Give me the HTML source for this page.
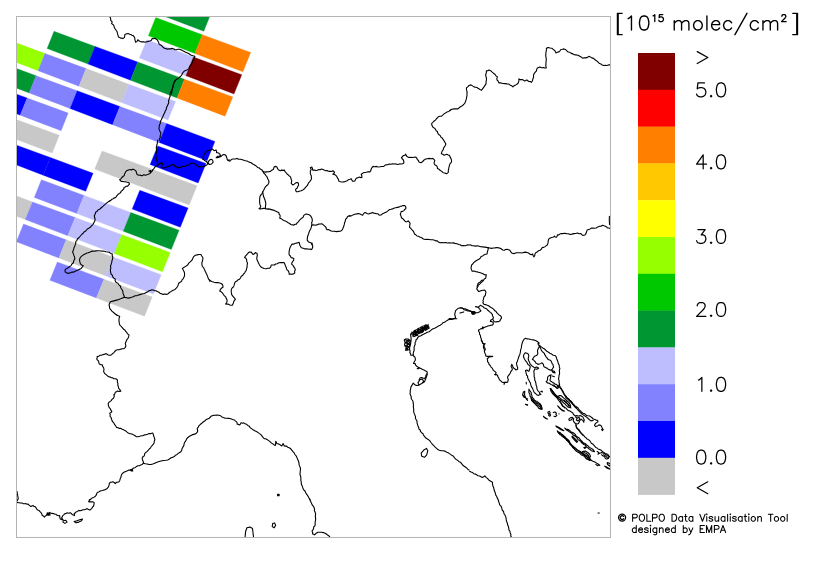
<!DOCTYPE html>
<html><head><meta charset="utf-8"><style>
html,body{margin:0;padding:0;background:#fff;}
body{width:813px;height:566px;overflow:hidden;position:relative;font-family:"Liberation Sans",sans-serif;}
svg{position:absolute;left:0;top:0;}
.t{position:absolute;color:#000;white-space:nowrap;line-height:1;}
</style></head><body>
<svg width="813" height="566" viewBox="0 0 813 566">
<defs><clipPath id="fr"><rect x="16.5" y="16.5" width="593.5" height="520.5"/></clipPath></defs>
<g clip-path="url(#fr)" shape-rendering="auto">
<polygon points="164.7,-4.6 211.3,12.5 203.8,31.3 157.3,13.6" fill="#009632" stroke="#009632" stroke-width="0.3"/>
<polygon points="155.7,17.6 202.4,34.8 194.9,53.5 148.4,35.8" fill="#00c800" stroke="#00c800" stroke-width="0.3"/>
<polygon points="202.4,34.8 250.7,52.5 242.9,71.8 194.9,53.5" fill="#ff8000" stroke="#ff8000" stroke-width="0.3"/>
<polygon points="146.8,39.8 193.4,57.0 185.9,75.7 139.4,58.0" fill="#bebeff" stroke="#bebeff" stroke-width="0.3"/>
<polygon points="193.4,57.0 241.8,74.7 234.0,94.0 185.9,75.7" fill="#800000" stroke="#800000" stroke-width="0.3"/>
<polygon points="54.0,31.3 95.1,46.4 88.0,64.1 47.1,48.5" fill="#009632" stroke="#009632" stroke-width="0.3"/>
<polygon points="95.1,46.4 137.8,62.1 130.5,80.2 88.0,64.1" fill="#0000ff" stroke="#0000ff" stroke-width="0.3"/>
<polygon points="137.8,62.1 184.5,79.2 177.0,97.9 130.5,80.2" fill="#009632" stroke="#009632" stroke-width="0.3"/>
<polygon points="184.5,79.2 232.8,96.9 225.0,116.2 177.0,97.9" fill="#ff8000" stroke="#ff8000" stroke-width="0.3"/>
<polygon points="4.9,38.8 45.0,53.5 38.1,70.7 -1.9,55.5" fill="#96ff00" stroke="#96ff00" stroke-width="0.3"/>
<polygon points="45.0,53.5 86.1,68.6 79.0,86.3 38.1,70.7" fill="#8282ff" stroke="#8282ff" stroke-width="0.3"/>
<polygon points="86.1,68.6 128.9,84.3 121.5,102.5 79.0,86.3" fill="#c8c8c8" stroke="#c8c8c8" stroke-width="0.3"/>
<polygon points="128.9,84.3 175.6,101.4 168.0,120.1 121.5,102.5" fill="#bebeff" stroke="#bebeff" stroke-width="0.3"/>
<polygon points="-4.1,61.0 36.1,75.7 29.2,92.9 -10.8,77.7" fill="#009632" stroke="#009632" stroke-width="0.3"/>
<polygon points="36.1,75.7 77.2,90.8 70.1,108.5 29.2,92.9" fill="#8282ff" stroke="#8282ff" stroke-width="0.3"/>
<polygon points="77.2,90.8 119.9,106.5 112.6,124.7 70.1,108.5" fill="#0000ff" stroke="#0000ff" stroke-width="0.3"/>
<polygon points="119.9,106.5 166.6,123.6 159.1,142.4 112.6,124.7" fill="#8282ff" stroke="#8282ff" stroke-width="0.3"/>
<polygon points="166.6,123.6 214.9,141.4 207.1,160.7 159.1,142.4" fill="#0000ff" stroke="#0000ff" stroke-width="0.3"/>
<polygon points="-13.0,83.2 27.2,98.0 20.2,115.2 -19.8,99.9" fill="#0000ff" stroke="#0000ff" stroke-width="0.3"/>
<polygon points="27.2,98.0 68.2,113.0 61.1,130.7 20.2,115.2" fill="#8282ff" stroke="#8282ff" stroke-width="0.3"/>
<polygon points="157.7,145.9 206.0,163.6 198.2,182.9 150.1,164.6" fill="#0000ff" stroke="#0000ff" stroke-width="0.3"/>
<polygon points="-22.0,105.4 18.2,120.2 11.3,137.4 -28.7,122.2" fill="#c8c8c8" stroke="#c8c8c8" stroke-width="0.3"/>
<polygon points="18.2,120.2 59.3,135.3 52.2,152.9 11.3,137.4" fill="#c8c8c8" stroke="#c8c8c8" stroke-width="0.3"/>
<polygon points="102.0,150.9 148.7,168.1 141.2,186.8 94.7,169.1" fill="#c8c8c8" stroke="#c8c8c8" stroke-width="0.3"/>
<polygon points="148.7,168.1 197.0,185.8 189.2,205.1 141.2,186.8" fill="#c8c8c8" stroke="#c8c8c8" stroke-width="0.3"/>
<polygon points="9.2,142.4 50.3,157.5 43.2,175.2 2.3,159.6" fill="#0000ff" stroke="#0000ff" stroke-width="0.3"/>
<polygon points="50.3,157.5 93.1,173.2 85.7,191.3 43.2,175.2" fill="#0000ff" stroke="#0000ff" stroke-width="0.3"/>
<polygon points="139.8,190.3 188.1,208.0 180.3,227.3 132.2,209.0" fill="#0000ff" stroke="#0000ff" stroke-width="0.3"/>
<polygon points="41.4,179.7 84.1,195.4 76.8,213.6 34.3,197.4" fill="#8282ff" stroke="#8282ff" stroke-width="0.3"/>
<polygon points="84.1,195.4 130.8,212.5 123.3,231.2 76.8,213.6" fill="#bebeff" stroke="#bebeff" stroke-width="0.3"/>
<polygon points="130.8,212.5 179.1,230.2 171.3,249.5 123.3,231.2" fill="#009632" stroke="#009632" stroke-width="0.3"/>
<polygon points="-8.6,186.8 32.5,201.9 25.3,219.6 -15.6,204.0" fill="#c8c8c8" stroke="#c8c8c8" stroke-width="0.3"/>
<polygon points="32.5,201.9 75.2,217.6 67.8,235.8 25.3,219.6" fill="#8282ff" stroke="#8282ff" stroke-width="0.3"/>
<polygon points="75.2,217.6 121.9,234.7 114.3,253.5 67.8,235.8" fill="#bebeff" stroke="#bebeff" stroke-width="0.3"/>
<polygon points="121.9,234.7 170.2,252.5 162.4,271.8 114.3,253.5" fill="#96ff00" stroke="#96ff00" stroke-width="0.3"/>
<polygon points="23.5,224.1 66.2,239.8 58.9,258.0 16.4,241.8" fill="#8282ff" stroke="#8282ff" stroke-width="0.3"/>
<polygon points="66.2,239.8 112.9,257.0 105.4,275.7 58.9,258.0" fill="#c8c8c8" stroke="#c8c8c8" stroke-width="0.3"/>
<polygon points="112.9,257.0 161.2,274.7 153.4,294.0 105.4,275.7" fill="#bebeff" stroke="#bebeff" stroke-width="0.3"/>
<polygon points="57.3,262.0 104.0,279.2 96.4,297.9 49.9,280.2" fill="#8282ff" stroke="#8282ff" stroke-width="0.3"/>
<polygon points="104.0,279.2 152.2,296.9 144.5,316.2 96.4,297.9" fill="#c8c8c8" stroke="#c8c8c8" stroke-width="0.3"/>
<g fill="none" stroke="#000" stroke-width="1.1" stroke-linejoin="round" stroke-linecap="round">
<path d="M109.2 16.2 L110.4 17.7 L110.7 19.0 L110.7 20.4 L112.2 21.9 L111.6 23.6 L113.3 24.8 L114.0 25.8 L114.1 27.1 L114.9 28.6 L116.0 30.0 L117.1 31.7 L117.5 33.7 L118.0 35.4 L118.5 37.1 L119.7 37.6 L120.8 38.2 L122.0 38.0 L123.0 38.6 L124.5 37.4 L124.7 36.0 L124.9 34.5 L126.7 33.7 L128.2 33.5 L129.7 34.2 L130.8 34.6 L131.9 35.2 L133.2 35.6 L134.1 36.7 L134.8 38.1 L134.9 39.7 L135.3 41.0 L135.6 42.3 L137.1 41.4 L137.8 39.7 L139.3 41.1 L140.7 41.8 L142.3 41.9 L143.8 41.8 L145.2 42.3 L146.7 41.7 L148.2 41.4 L149.7 41.0 L151.2 40.4 L152.2 38.5 L153.6 38.7 L154.9 38.2 L156.0 39.0 L157.1 39.7 L157.9 41.0 L158.6 42.3 L159.0 43.8 L160.1 44.9 L161.4 45.3 L162.3 46.3 L163.2 47.5 L164.5 48.3 L166.1 48.6 L167.5 49.3 L168.9 48.8 L170.5 48.9 L171.5 48.4 L172.7 48.6 L173.9 49.0 L174.9 49.8 L176.4 49.8 L177.9 49.3 L179.4 49.2 L180.8 49.8 L182.3 50.6 L183.8 51.2 L185.6 52.2 L187.5 53.0 L189.4 54.0 L191.2 55.2 L193.1 55.8 L194.9 56.3 L194.2 58.2 L193.8 59.5 L192.7 60.4 L192.6 62.0 L191.7 63.4 L191.1 64.7 L190.2 65.6 L189.4 67.0 L189.0 68.6 L187.9 69.4 L186.8 70.1 L185.7 70.6 L184.5 70.8 L183.1 72.3 L182.3 73.7 L181.6 75.3 L180.5 76.4 L179.4 77.5 L178.3 78.4 L177.1 79.0 L175.8 79.9 L174.9 81.2 L174.0 82.6 L173.4 84.2 L173.3 86.1 L172.7 87.9 L172.2 89.3 L171.9 90.8 L171.7 92.4 L171.5 94.0"/>
<path d="M175.7 80.0 L174.4 81.7 L173.8 83.7 L173.0 85.5 L172.7 87.4 L172.2 89.3 L171.4 91.1 L170.3 92.8 L170.1 94.8 L170.1 96.5 L169.4 97.9 L169.0 99.5 L168.5 101.0 L168.8 102.6 L168.2 104.1 L167.3 106.0 L166.4 107.8 L166.3 109.5 L165.2 110.9 L164.9 112.4 L163.8 114.2 L163.0 116.2 L162.1 118.0 L161.2 119.9 L160.4 121.3 L160.4 123.0 L159.7 124.5 L159.3 126.0 L159.1 127.6 L159.0 129.1 L159.8 131.0 L160.8 132.8 L160.7 134.4 L160.1 135.9 L160.3 137.5 L159.4 138.7 L159.3 140.3"/>
<path d="M157.8 140.0 L157.2 143.7 L156.3 147.4 L156.7 151.1 L155.7 154.8 L156.3 158.5 L157.2 162.2 L157.8 164.9"/>
<path d="M157.8 164.9 L158.7 164.2 L159.7 163.4 L160.9 163.1 L161.9 162.5 L162.5 163.8 L162.2 165.2 L161.5 166.3 L161.2 167.4 L162.3 167.8 L163.4 167.9 L165.0 167.9 L166.4 167.0 L167.9 166.7 L169.3 166.0 L170.4 165.3 L171.6 164.9 L172.6 164.6 L173.8 164.5 L174.4 165.7 L175.3 166.7 L176.6 166.9 L177.5 167.9 L179.0 167.6 L180.5 167.4 L181.4 166.7 L182.7 166.4 L183.8 166.2 L184.9 166.7 L185.8 165.6 L187.1 165.2 L188.3 165.1 L189.4 164.5 L190.3 163.5 L191.6 163.0 L192.7 163.0 L193.8 163.4 L195.0 163.9 L196.0 164.5 L196.9 165.8 L198.3 166.7 L199.8 166.5 L201.2 167.0 L202.7 166.7 L204.2 166.4 L205.3 165.8 L206.4 165.2 L207.4 164.3 L207.9 163.0 L206.4 161.5 L204.9 160.8 L204.0 159.8 L202.7 159.3 L203.2 157.8 L203.1 156.3 L203.9 154.7 L204.9 153.3 L206.0 152.2 L207.2 151.1 L208.6 150.5 L210.1 150.1 L211.4 149.8 L212.3 148.9 L213.8 150.4 L215.0 150.6 L216.1 150.1 L216.6 151.3 L216.5 152.6 L217.8 152.7 L219.0 153.3 L220.0 154.3 L220.5 155.6 L219.1 156.2 L217.5 156.3 L216.1 157.8 L217.2 157.6 L218.3 157.5 L219.8 157.0 L221.2 156.3 L222.7 154.8 L223.8 154.6 L225.0 154.8 L226.1 155.7 L226.4 157.1 L226.9 158.1 L227.2 159.3 L228.7 160.8 L230.0 161.1"/>
<path d="M207.9 163.0 L209.4 164.5 L211.6 164.0 L213.1 162.2 L212.6 160.0 L210.9 159.3 L209.1 160.5 L207.9 163.0"/>
<path d="M157.8 164.9 L156.6 165.9 L155.2 166.7 L154.4 167.8 L153.8 168.9 L152.7 169.8 L152.3 171.1 L151.1 171.4 L150.0 171.9 L148.9 171.1 L150.8 170.4 L151.5 171.9 L150.0 173.4 L148.9 173.9 L147.8 174.4 L146.7 174.8 L145.6 175.3 L144.5 174.9 L143.4 174.9 L142.4 175.6 L141.1 175.6 L140.1 175.1 L138.9 175.3 L137.0 174.4 L136.4 172.3 L136.0 171.2 L135.2 170.4 L133.7 169.4 L132.5 169.3 L131.5 170.0 L130.4 169.5 L129.3 169.7 L128.2 170.1 L127.1 170.4 L125.6 171.9 L125.1 173.0 L124.5 174.1 L124.3 175.4 L123.3 176.3 L122.4 177.0 L121.6 177.8 L120.9 179.1 L119.6 179.8 L120.7 180.4 L121.1 181.5 L122.6 181.4 L124.1 181.8 L125.6 181.7 L127.1 182.3 L128.2 182.5 L129.3 183.0 L129.3 184.3 L128.5 185.2 L127.6 186.2 L126.3 186.3 L125.3 187.0 L124.1 187.2 L123.9 188.6 L123.1 189.7 L122.2 190.5 L121.1 191.2 L120.7 192.5 L119.6 193.4 L118.3 194.0 L117.4 195.2 L116.6 196.1 L115.9 197.1 L115.0 197.9 L113.7 198.1 L112.9 198.9 L111.8 199.3 L111.0 200.2 L110.0 200.8"/>
<path d="M227.8 160.3 L229.2 160.1 L230.6 160.3 L231.8 159.3 L233.4 159.0 L235.3 159.0 L237.1 158.4 L238.8 159.3 L240.8 159.3 L242.3 159.8 L243.9 160.3 L245.4 160.8 L247.4 161.1 L249.1 162.1 L251.2 162.7 L252.8 164.0 L254.2 164.7 L255.4 165.4 L256.6 166.4 L257.6 167.5 L259.2 167.9 L260.3 169.0 L261.9 169.9 L263.0 171.4 L264.8 172.1 L266.8 171.9 L268.6 171.7 L270.5 171.4 L271.7 170.2 L273.2 169.5 L273.7 168.2 L274.2 166.8 L276.0 166.4 L277.1 167.3 L277.5 168.6 L278.4 169.6 L279.4 170.5 L280.5 170.7 L281.6 170.1 L283.0 170.4 L284.4 170.1 L284.9 171.3 L285.7 172.3 L286.6 173.1 L287.2 174.2 L288.2 174.8 L289.0 175.7 L290.2 176.6 L290.9 177.9 L291.1 179.3 L291.8 180.7 L291.5 182.0 L291.2 183.4 L292.7 184.9 L294.2 184.2 L295.5 183.1 L296.7 182.6 L297.9 182.5 L298.5 183.8 L298.6 185.3 L297.7 186.6 L297.3 188.1 L296.1 188.7 L295.5 189.9 L296.4 191.8 L297.9 191.8 L299.2 191.2 L301.1 190.8 L302.9 189.9 L304.5 188.7 L305.7 187.2 L307.0 185.9 L307.9 184.4 L308.6 182.8 L309.8 181.6 L310.7 180.2 L311.6 178.8 L311.3 177.2 L311.3 175.7 L310.4 174.1 L310.3 172.3 L310.4 170.8 L311.3 169.5 L310.3 167.7 L311.8 167.1 L312.5 168.5 L312.7 170.1 L314.3 170.1 L315.9 170.5 L317.3 170.2 L318.7 169.5 L320.1 169.7 L321.5 169.0 L322.9 169.5 L324.2 170.1 L325.6 170.7 L327.0 170.5 L328.3 171.3 L329.8 171.4"/>
<path d="M330.0 171.4 L331.5 171.5 L332.8 170.8 L333.8 171.5 L334.6 172.3 L333.9 173.4 L332.8 174.2 L334.2 174.4 L335.6 175.1 L336.7 176.3 L337.4 177.9 L338.4 179.4 L338.9 181.2 L340.5 181.7 L342.1 182.0 L344.0 181.9 L345.8 181.2 L347.3 180.7 L348.5 179.7 L349.9 179.3 L351.3 178.8 L351.9 180.1 L352.6 181.2 L353.9 181.2 L355.0 180.7 L355.6 179.1 L356.9 177.9 L358.3 177.6 L359.7 177.0 L360.7 177.6 L361.9 177.5 L361.8 175.8 L361.2 174.2 L362.4 173.6 L363.4 172.7 L364.8 172.5 L366.2 172.3 L368.0 171.8 L369.9 171.9 L370.8 170.6 L371.2 169.0 L372.0 167.6 L373.0 166.4 L374.7 166.7 L376.4 166.4 L378.2 167.0 L380.1 166.8 L381.9 166.5 L383.8 166.4 L384.6 165.6 L385.6 164.9 L387.6 164.8 L389.3 164.0 L390.9 164.2 L392.4 163.7 L394.0 164.0 L395.9 163.9 L397.7 164.5 L399.5 163.9 L401.4 164.0 L402.7 163.8 L403.8 163.0 L403.8 161.3 L403.2 159.7 L402.1 158.8 L401.4 157.5 L402.5 156.8 L403.2 155.6 L404.7 155.3 L405.7 154.1 L406.2 155.4 L407.0 156.6 L408.8 157.5 L410.7 157.3 L412.5 157.5 L414.1 157.3 L415.7 157.1 L416.7 158.0 L417.2 159.3 L418.4 160.5 L419.0 162.1 L420.9 162.7 L422.5 161.8 L423.6 160.3 L424.6 159.7 L425.5 159.0 L427.4 158.7 L429.2 158.4 L431.1 158.8 L432.9 158.4 L433.9 159.3 L434.8 160.3 L434.2 162.1 L434.2 164.0 L435.2 165.1 L436.6 165.8 L437.3 167.1 L437.5 168.6 L439.1 169.3 L440.3 170.5 L441.8 171.4 L443.1 172.7 L444.9 173.0 L446.4 173.8 L447.4 173.1 L448.3 172.3 L448.3 170.4 L448.7 168.6 L449.1 166.7 L449.6 164.9 L450.3 163.3 L451.5 162.1 L451.5 160.2 L450.9 158.4 L450.1 157.1 L449.6 155.6 L448.2 155.0 L446.8 154.3 L445.4 154.7 L444.0 155.3 L442.8 154.2 L441.3 153.8 L441.7 152.4 L442.2 151.0 L443.2 149.8 L443.5 148.2 L444.2 147.1 L445.0 146.0 L445.9 144.1 L445.0 142.4 L444.0 140.8 L443.1 139.4 L442.2 138.0 L440.9 137.1 L440.3 135.6 L439.4 135.0 L438.5 134.3 L437.7 133.0 L437.5 131.5 L436.3 130.9 L435.7 129.7 L435.0 128.6 L433.8 127.8 L432.7 126.9 L432.0 125.6 L431.6 123.7 L432.7 122.5 L433.8 121.3 L435.4 120.1 L436.6 118.5 L437.6 117.7 L438.5 116.7 L439.8 116.3 L441.3 116.3 L442.7 115.1 L444.0 113.9 L445.5 113.0 L446.8 112.1 L448.8 111.4 L450.5 110.2"/>
<path d="M450.0 110.3 L451.9 109.2 L454.0 108.9 L456.0 108.9 L458.0 108.9 L459.2 107.7 L460.5 106.7 L462.0 105.9 L463.7 104.5 L465.0 102.9 L465.7 100.9 L466.4 98.9 L466.6 97.2 L467.0 95.6 L467.0 93.9 L467.1 91.9 L466.5 89.9 L466.4 87.9 L467.7 86.8 L469.0 85.5 L471.0 84.9 L472.5 85.9 L474.0 86.9 L475.5 87.2 L477.0 87.5 L478.4 88.6 L480.0 89.5 L481.6 90.3 L482.7 88.6 L484.0 86.9 L485.0 85.4 L486.0 83.9 L486.1 81.9 L486.4 79.9 L486.5 78.2 L486.0 76.5 L485.6 74.9 L486.3 73.0 L486.4 70.9 L487.8 70.8 L489.0 69.9 L490.6 70.7 L491.9 71.9 L493.4 73.2 L494.9 74.3 L496.0 75.9 L497.5 76.9 L496.9 78.3 L496.9 79.9 L498.2 81.2 L498.9 82.9 L501.0 82.9 L502.9 83.5 L504.9 83.6 L506.9 83.9 L508.6 84.0 L509.9 84.9 L511.6 85.7 L512.9 86.9 L514.2 85.6 L515.9 84.9 L517.2 84.0 L518.3 82.9 L518.9 80.9 L518.9 78.9 L520.1 79.6 L521.5 79.5 L523.1 79.9 L524.3 80.9 L525.7 80.6 L526.9 79.9 L527.8 80.8 L528.9 81.5 L530.3 81.6 L531.5 82.3 L532.5 80.7 L532.9 78.9 L533.6 77.0 L533.5 74.9 L534.3 73.3 L535.5 71.9 L536.5 70.8 L536.7 69.2 L537.5 67.9 L538.7 67.4 L539.9 66.9 L541.6 67.7 L543.5 67.5 L544.8 68.0 L546.3 67.9 L545.8 66.0 L545.9 63.9 L546.0 62.3 L546.2 60.6 L546.3 58.9 L546.0 57.3 L545.7 55.6 L545.9 53.9 L545.9 52.3 L546.4 50.6 L546.3 48.9 L547.0 47.9 L548.3 47.5 L550.1 48.0 L551.9 48.3 L552.9 49.1 L553.9 49.9 L555.2 51.2 L555.9 52.9 L557.3 52.3 L558.9 51.9 L560.0 50.8 L560.9 49.5 L562.4 49.3 L563.9 48.9 L565.6 49.6 L566.9 50.9 L568.2 52.0 L569.9 52.3 L571.2 53.4 L572.9 53.9 L574.2 54.8 L575.8 54.9 L578.0 55.3 L579.8 56.3 L581.5 57.2 L582.8 58.3 L584.3 57.7 L585.8 57.9 L587.5 57.4 L588.8 56.3 L590.4 56.9 L591.8 57.9 L593.5 58.4 L594.8 59.5 L596.4 60.7 L597.8 61.9 L599.1 63.2 L600.8 63.9 L602.2 65.0 L603.8 65.5 L605.3 65.3 L606.8 65.5 L608.6 64.9 L610.4 64.9"/>
<path d="M263.0 171.5 L263.7 173.0 L264.9 174.1 L266.0 175.6 L267.1 177.0 L267.7 178.7 L268.6 180.2 L269.0 181.8 L268.6 183.4 L267.8 184.8 L266.4 185.8 L265.3 187.1 L264.5 188.5 L263.7 190.2 L262.7 191.9 L262.1 193.7 L260.8 195.0 L259.9 196.8 L259.7 198.7 L259.6 200.9 L259.7 203.0 L260.0 204.7 L260.8 206.2 L260.2 207.6 L259.0 208.6 L260.5 208.9 L262.1 208.6 L263.7 208.2 L265.3 208.6 L266.9 209.1 L268.6 208.9 L270.5 209.4 L272.3 209.9 L274.2 210.4 L276.0 211.2 L277.4 211.9 L278.8 212.6 L279.1 214.2 L280.1 215.4 L280.1 216.8 L279.7 218.2 L281.3 218.7 L282.5 219.7 L283.9 220.4 L285.3 221.0 L286.8 221.7 L288.1 222.8 L289.7 223.5 L290.9 224.7 L292.3 224.7 L293.6 225.3 L294.9 224.3 L296.4 224.1 L297.1 222.9 L298.3 221.9 L299.1 220.7 L300.1 219.7 L301.1 218.6 L302.4 217.8 L303.3 216.8 L303.8 215.4 L304.9 214.6 L306.1 214.1 L307.3 214.3 L308.5 214.5 L309.9 215.2 L310.9 216.4 L311.7 217.7 L312.2 219.1 L312.3 221.1 L311.6 222.8 L311.9 224.0 L311.8 225.3"/>
<path d="M262.7 191.9 L263.4 196.0 L264.9 199.7 L265.8 203.4 L265.3 208.6"/>
<path d="M311.8 225.3 L313.4 224.8 L315.0 225.3 L316.9 224.9 L318.7 224.1 L320.1 224.0 L321.5 223.8 L322.8 224.3 L323.9 225.3 L325.0 226.4 L326.1 227.5 L326.2 228.7 L327.0 229.7 L328.5 229.6 L329.8 230.3 L331.1 231.0 L332.6 231.2 L334.4 231.3 L336.3 231.6 L338.1 231.4 L340.0 231.2 L341.4 230.7 L342.4 229.7 L343.0 228.1 L343.7 226.6 L344.2 224.7 L344.6 222.8 L345.3 221.0 L345.6 219.1 L346.8 218.2 L347.4 216.7 L348.6 216.0 L350.0 215.4"/>
<path d="M311.8 225.3 L310.9 228.4 L309.4 231.2 L308.5 234.0 L307.5 236.8 L307.2 240.1 L308.5 241.9 L310.9 242.7 L312.2 245.1"/>
<path d="M110.1 200.7 L108.2 201.8 L106.5 203.2 L104.8 204.6 L103.2 206.1 L101.5 207.5 L100.0 209.0 L98.0 210.0 L97.0 211.4 L95.6 212.2 L95.3 214.0 L94.3 215.6 L94.6 217.5 L95.2 219.3 L94.7 221.2 L93.7 223.0 L92.9 224.6 L91.5 225.8 L90.4 227.2 L88.7 228.2 L87.1 229.2 L86.0 230.8 L84.4 231.7 L83.2 233.2 L81.7 234.5 L80.4 236.0 L79.1 237.5 L77.6 238.7 L76.9 240.3 L75.8 241.5 L75.7 243.2 L75.2 244.9 L74.6 246.5 L73.9 248.0 L73.5 250.0 L72.6 251.7 L73.3 253.6 L73.9 255.4 L74.6 257.2 L74.8 259.1 L73.7 260.8 L73.4 262.8 L71.9 264.0 L71.1 265.6 L69.7 266.5 L68.3 267.5 L67.1 268.4 L65.6 269.0 L65.0 270.5 L65.2 272.1 L66.4 272.6 L67.4 273.4 L68.8 273.1 L70.2 273.0 L71.9 272.1 L73.9 272.1 L75.7 271.1 L77.6 270.3 L79.5 269.3 L81.3 268.4 L82.3 267.0 L83.2 265.6 L81.6 264.9 L80.4 263.8 L79.9 261.9 L79.5 260.1 L80.0 258.0 L81.3 256.4 L83.1 255.1 L85.0 254.1 L86.4 253.2 L88.1 252.8 L89.7 252.3 L91.1 251.5 L92.7 251.1 L94.3 251.2 L95.8 250.9 L97.4 250.7 L98.9 250.8 L100.8 251.0 L102.6 251.1 L104.5 251.2 L106.0 251.8 L107.6 252.0 L109.1 252.3 L110.6 253.4 L112.3 254.1 L112.2 255.8 L112.8 257.3 L112.5 259.2 L111.9 261.0 L111.6 262.9 L111.0 264.7 L110.4 266.2 L110.9 267.8 L110.4 269.3 L110.4 270.9 L110.7 272.4 L111.0 274.0 L112.3 275.1 L112.8 276.8 L113.8 278.1 L115.3 279.0 L115.1 280.5 L115.6 281.9 L116.7 282.7 L117.9 283.2 L118.9 284.8 L120.3 286.0 L120.9 288.0 L122.1 289.7 L122.9 291.5 L123.0 293.4 L123.8 295.3 L124.5 297.2 L126.1 297.6 L127.7 298.1 L129.6 297.9 L131.4 297.2 L133.3 296.7 L135.1 295.7 L137.0 295.6 L138.8 294.9 L140.7 294.4 L142.5 293.8 L144.5 293.5 L146.2 292.5 L147.7 291.7 L149.0 290.7 L150.4 290.4 L151.8 289.7 L153.3 290.0 L154.6 290.7 L156.1 290.7 L157.3 291.6 L158.9 292.2 L160.1 293.4 L161.6 293.8 L162.9 294.4 L164.8 294.0 L166.6 294.4 L168.2 293.7 L169.4 292.5 L170.8 291.6 L172.2 290.7 L173.6 290.1 L175.0 289.4 L176.2 288.2 L177.2 287.0 L178.1 285.2 L178.7 283.2 L180.1 282.3 L181.5 281.4 L182.0 279.8 L183.3 278.6 L184.2 276.8 L184.6 274.9 L184.5 273.0 L183.9 271.2 L183.1 269.8 L182.4 268.4 L183.8 267.5 L185.2 266.6 L186.6 265.7 L187.9 264.7 L188.8 263.1 L190.2 261.9 L191.5 260.7 L192.6 259.1 L193.0 257.7 L193.9 256.4 L195.4 255.3 L197.2 254.9 L199.0 254.5 L200.9 254.5 L201.7 256.0 L202.8 257.3 L202.9 259.2 L202.4 261.0 L201.9 262.8 L201.9 264.7 L202.4 266.5 L203.7 267.9 L204.3 269.3 L205.0 270.7 L205.6 272.1 L206.5 274.0 L207.4 275.8 L207.9 277.3 L208.4 278.8 L209.3 280.1 L210.0 281.4"/>
<path d="M124.5 297.2 L121.2 298.6 L117.5 299.9 L113.8 300.9 L110.4 301.8 L109.1 304.6 L109.7 308.3 L111.9 311.1 L114.7 313.5 L116.6 315.0"/>
<path d="M209.5 279.9 L210.8 280.9 L212.3 281.7 L214.1 282.3 L216.0 282.6 L217.9 282.5 L219.7 283.0 L221.2 283.5 L222.4 284.5 L222.9 285.8 L223.0 287.3 L221.7 288.0 L220.6 289.1 L219.7 291.0 L221.2 291.8 L222.4 292.8 L223.3 294.3 L224.3 295.6 L225.6 296.8 L226.2 298.4 L227.0 299.7 L227.1 301.2 L226.5 302.7 L225.6 304.0 L226.8 304.1 L228.0 304.0 L229.9 304.9 L231.0 305.3 L232.3 305.3 L233.1 303.8 L233.6 302.1 L234.3 300.6 L235.4 299.3 L234.5 298.2 L233.6 297.1 L232.6 295.9 L231.7 294.7 L231.4 292.9 L231.2 291.0 L231.4 289.3 L232.3 287.8 L233.5 286.9 L234.1 285.4 L234.5 283.5 L235.4 281.7 L236.9 281.1 L237.8 279.9 L239.4 279.3 L240.4 278.0 L241.3 276.3 L242.8 275.2 L243.6 274.0 L244.7 272.9 L245.3 271.5 L246.3 270.3 L246.5 268.8 L247.1 267.4 L247.1 265.3 L247.5 263.2 L246.8 261.4 L246.6 259.5 L245.9 258.3 L244.7 257.6 L245.4 256.1 L246.6 254.8 L247.5 253.8 L248.4 252.6 L249.7 252.0 L251.2 252.1 L252.1 253.3 L253.0 254.5 L254.4 253.8 L255.3 252.6 L257.1 253.4 L257.3 255.5 L256.8 257.6 L256.9 259.5 L257.7 261.3 L258.6 263.2 L259.5 265.0 L260.7 266.7 L262.3 267.8 L264.1 268.5 L266.0 268.7 L267.8 268.2 L269.7 268.2 L270.8 266.8 L271.2 265.0 L272.8 265.0 L274.4 265.0 L275.6 264.0 L277.2 263.7 L278.9 262.8 L280.9 262.6 L282.5 262.6 L284.2 262.6 L284.9 264.3 L285.5 266.0 L286.3 267.8 L286.8 269.7 L287.9 270.4 L288.6 271.5 L289.1 272.9 L289.2 274.3 L290.6 274.1 L292.0 274.3 L293.5 273.9 L294.8 273.0 L294.6 271.3 L295.3 269.7 L294.8 268.2 L293.8 266.9 L293.0 265.3 L291.6 264.1 L292.0 262.6 L292.9 261.3 L293.7 260.1 L293.8 258.5 L292.5 257.9 L291.1 257.6 L290.4 256.0 L289.2 254.8 L289.0 253.0 L289.2 251.1 L289.6 249.2 L290.1 247.4 L291.0 245.7 L292.0 244.1 L293.9 244.1 L295.7 243.3 L297.4 242.9 L299.0 242.2 L299.5 243.7 L299.8 245.2 L300.6 246.5 L301.3 247.8 L303.2 248.2 L305.0 248.9 L306.9 248.7 L308.7 249.3 L310.1 249.1 L311.5 249.6 L312.4 248.2 L312.8 246.5 L312.2 244.7 L312.0 242.8"/>
<path d="M349.3 216.2 L351.3 215.9 L353.0 214.9 L354.8 214.2 L356.7 213.9 L358.1 213.6 L359.5 213.7 L361.0 214.5 L362.6 215.2 L363.6 213.7 L365.0 212.4 L366.3 213.0 L367.4 213.7 L368.6 214.0 L369.7 213.4 L371.2 213.2 L372.4 212.4 L373.8 213.2 L375.2 213.4 L376.6 213.7 L378.0 213.7 L378.7 214.8 L379.9 215.2 L381.4 214.8 L382.6 213.7 L384.1 213.1 L385.4 212.4 L386.9 211.7 L388.2 210.6 L389.4 209.6 L391.0 209.3 L392.5 208.9 L393.8 208.2 L395.6 207.8 L397.5 207.4 L399.0 207.1 L400.3 206.3 L401.7 206.1 L403.0 205.6 L404.2 205.6 L405.3 206.0 L405.9 207.3 L405.8 208.7 L404.6 209.4 L404.0 210.6 L402.7 211.4 L401.2 211.5 L400.8 212.9 L400.3 214.3 L401.0 216.1 L401.6 218.0 L402.9 218.8 L404.0 219.9 L404.7 220.9 L405.8 221.7 L407.2 221.7 L408.2 220.8 L409.3 222.1 L410.1 223.6 L409.7 225.4 L409.5 227.3 L410.6 228.1 L411.4 229.1 L412.3 230.1 L413.2 231.0 L414.0 232.5 L414.5 234.1 L415.9 234.8 L417.0 236.0 L418.5 236.3 L419.7 237.1 L421.7 237.8 L423.4 239.0 L425.3 239.5 L427.2 239.3 L429.0 239.5 L430.9 239.7 L432.8 239.7 L434.6 240.3 L435.9 240.9 L437.3 240.8 L438.5 242.1 L440.1 242.7 L442.0 242.6 L443.8 242.7 L445.7 242.5 L447.5 243.0 L449.4 242.8 L451.3 243.0 L453.1 242.9 L455.0 243.4 L456.9 243.8 L458.7 244.5 L460.2 244.8 L461.5 245.8 L463.3 245.6 L465.2 245.8 L466.5 245.2 L467.9 244.9 L469.3 245.0 L470.7 244.9 L472.0 245.7 L473.5 245.8 L475.4 246.1 L477.2 245.8 L479.1 246.2 L480.9 246.8 L482.8 246.9 L484.6 247.1 L486.5 247.4 L488.3 247.7"/>
<path d="M488.2 247.9 L489.8 248.0 L491.3 248.4 L493.2 248.0 L495.0 247.9 L496.9 247.5 L498.7 247.9 L500.2 248.2 L501.5 249.0 L502.7 250.0 L504.3 250.3 L505.6 249.5 L507.1 249.3 L508.5 249.8 L509.9 250.3 L510.7 251.7 L511.7 253.0 L513.1 253.6 L514.5 253.4 L516.3 252.8 L518.2 252.7 L520.1 252.7 L521.9 253.0 L523.7 252.4 L525.6 252.1 L527.0 252.5 L528.4 253.0 L529.4 253.7 L530.3 254.5 L531.6 254.6 L532.7 254.0 L533.0 255.5 L534.0 256.8 L534.8 255.5 L534.9 254.0 L535.7 252.7 L537.1 252.1 L538.4 250.8 L540.1 250.3 L541.4 249.0 L542.3 247.5 L543.8 247.4 L545.1 246.6 L546.3 245.6 L547.5 244.7 L548.0 242.9 L548.2 241.0 L548.6 239.4 L549.7 238.2 L551.1 237.7 L552.5 237.3 L553.7 236.9 L554.4 236.0 L555.1 236.9 L556.2 237.3 L557.2 236.2 L557.5 234.9 L558.9 234.9 L559.9 234.1 L561.3 233.6 L562.7 233.6 L564.6 233.2 L566.4 233.6 L568.4 233.7 L570.1 234.5 L572.0 234.1 L573.8 233.6 L575.7 233.5 L577.5 233.0 L579.2 233.7 L580.9 233.6 L581.7 234.6 L582.7 235.4 L583.9 235.3 L585.0 234.9 L585.9 233.7 L586.4 232.3 L586.8 231.1 L587.2 229.9 L588.7 229.4 L590.2 228.9 L591.3 228.1 L592.8 228.0 L594.4 228.3 L596.1 228.0 L597.8 226.9 L599.8 226.2 L601.3 226.1 L602.6 225.2 L603.9 225.8 L605.4 226.2 L606.6 226.9 L607.6 228.0 L609.0 228.0 L610.4 228.6"/>
<path d="M609.4 216.3 L609.3 220.6 L609.6 224.7"/>
<path d="M488.2 247.9 L488.1 249.6 L487.6 251.2 L487.2 252.6 L487.1 254.0 L485.4 254.3 L483.9 254.9 L482.7 255.9 L481.1 256.4 L480.5 257.9 L479.3 259.0 L477.9 259.7 L476.5 260.5 L475.1 261.5 L473.7 262.7 L472.7 264.0 L471.5 265.1 L471.4 266.5 L470.9 267.9 L471.5 269.6 L472.2 271.2 L473.9 271.0 L475.6 271.6 L477.5 271.9 L479.3 272.5 L481.1 273.1 L483.0 273.8 L484.5 274.8 L486.3 274.9 L485.9 276.5 L485.8 278.1 L484.3 279.0 L483.4 280.5 L482.3 281.6 L481.1 282.7 L479.9 284.0 L478.3 284.9 L478.1 286.2 L477.4 287.3"/>
<path d="M482.9 280.0 L481.4 280.6 L480.4 281.9 L479.0 282.6 L477.9 283.7 L477.7 285.0 L477.1 286.2 L477.3 287.6 L476.7 288.9 L477.6 290.1 L478.5 291.4 L480.1 291.1 L481.6 290.5 L483.2 290.2 L484.7 290.1 L485.5 291.1 L486.0 292.4 L485.5 293.9 L485.3 295.5 L484.2 296.5 L483.7 297.9 L483.5 299.2 L482.9 300.4 L483.3 301.6 L482.9 302.9 L484.1 304.5 L485.4 304.6 L486.6 305.0 L487.8 305.4 L489.0 306.0 L490.2 307.0 L491.5 307.8 L492.9 308.5 L494.0 309.7 L494.9 310.8 L496.1 311.5 L496.7 312.7 L497.7 313.6 L498.5 314.4 L499.3 315.2 L500.5 315.8 L501.4 316.8 L501.4 318.6 L500.4 319.3 L500.2 320.5 L499.3 321.3 L498.3 321.8 L497.1 321.6 L495.8 322.0 L494.0 321.4 L493.1 319.8"/>
<path d="M460.0 307.8 L461.9 308.0 L463.7 308.7 L465.6 308.9 L467.4 309.7 L468.9 310.5 L470.5 310.9 L472.4 311.9 L474.3 312.1 L476.1 312.8 L477.7 312.8 L479.2 312.1 L480.1 311.5 L481.0 310.9 L480.2 310.1 L479.8 309.0 L479.0 308.3 L478.5 307.2 L479.4 306.2 L480.4 305.3 L481.6 306.1 L482.9 306.6 L483.9 307.7 L485.3 308.2 L486.8 309.0 L487.8 310.3 L489.1 311.3 L490.3 312.4 L491.5 313.3 L492.4 314.6 L492.5 316.0 L493.4 317.1 L493.2 318.3 L492.4 319.3 L490.7 320.2 L490.3 321.4 L492.1 321.8 L493.4 322.6 L493.1 324.5 L492.1 325.2 L490.9 325.1 L489.8 325.8 L488.4 325.7 L487.2 326.3 L486.0 326.7 L484.1 327.6 L482.2 327.0 L483.2 328.8 L481.3 328.5 L479.8 329.4 L478.5 330.1 L478.7 331.4 L479.5 332.5 L479.6 334.2 L480.4 335.6 L480.6 337.2 L481.3 338.7 L481.3 340.4 L482.2 341.8 L483.2 343.7 L485.3 343.7 L484.1 344.3 L483.9 345.9 L484.5 347.4 L485.1 348.6 L485.3 350.0"/>
<path d="M460.0 313.1 L463.7 311.9"/>
<path d="M475.5 306.6 L478.5 307.4"/>
<path d="M481.6 340.3 L482.3 341.6 L482.5 343.0 L484.4 344.0 L483.4 345.8 L483.5 347.8 L484.4 349.5 L484.4 351.4 L484.9 353.2 L485.7 354.5 L485.7 356.0 L487.3 356.4 L489.0 356.4 L490.9 356.3 L492.7 356.4 L490.9 356.8 L489.0 357.0 L488.2 358.0 L487.2 358.8 L487.6 360.2 L487.5 361.6 L488.7 362.8 L489.0 364.4 L490.1 365.5 L490.9 366.8 L491.9 367.8 L492.7 369.0 L493.3 370.4 L494.6 371.2 L496.1 372.7 L495.6 373.9 L494.6 374.6 L495.7 375.0 L496.8 374.6 L497.6 375.6 L497.9 376.8 L498.7 377.9 L499.2 379.2 L499.9 380.3 L501.1 381.1 L501.8 381.9 L502.9 382.4 L504.8 382.9"/>
<path d="M449.1 318.6 L452.8 318.9 L455.6 318.0 L454.7 314.3 L455.6 310.6 L458.4 308.2 L462.1 307.8 L464.0 309.7 L466.8 310.6 L471.4 311.5 L473.2 313.4"/>
<path d="M456.8 318.7 L455.0 318.8 L453.1 318.9 L451.3 319.5 L449.4 319.3 L447.5 320.3 L445.7 321.4 L444.5 322.3 L443.0 322.7 L442.0 323.8 L440.3 325.2 L438.3 326.1 L436.5 327.3 L434.6 328.3 L432.5 329.0 L430.8 330.4 L429.2 331.7 L427.1 332.2 L425.6 333.2 L424.0 334.1 L422.4 334.7 L421.0 335.7 L419.3 336.2 L417.9 337.2 L417.3 338.7 L416.0 339.7 L415.9 341.3 L415.0 342.8 L415.2 344.4 L414.5 345.8 L414.0 347.3 L414.2 348.9 L414.1 350.5 L413.5 352.0 L413.2 353.6 L413.3 355.1 L413.8 356.3 L414.8 357.0 L415.2 358.2 L415.4 359.4 L415.0 360.8 L414.2 361.9 L413.5 363.4 L415.4 363.8 L415.6 365.2 L416.6 366.2 L417.8 367.0 L419.1 367.5 L418.3 368.3 L417.2 368.7 L418.5 368.6 L419.7 368.1 L421.0 368.6 L422.2 369.3 L423.8 369.9 L425.3 370.8 L427.1 371.8 L427.3 373.1 L426.5 374.3 L425.9 375.4 L425.7 376.7 L424.7 378.6 L422.8 378.0 L421.6 377.5 L420.3 377.7 L419.6 378.8 L419.1 380.0"/>
<path d="M411.1 333.5 L412.5 332.9 L413.5 331.6 L414.9 330.3 L416.6 329.8 L418.1 328.6 L419.7 327.9 L421.3 327.0 L422.8 326.1 L424.5 325.8 L425.9 324.8 L426.9 325.5 L428.1 325.5 L428.7 326.7 L429.0 327.9 L427.9 328.9 L426.5 329.5 L425.3 329.1 L424.0 328.5 L422.8 329.5 L421.6 330.4 L421.9 331.5 L422.8 332.2 L421.3 332.8 L419.7 332.9 L418.6 332.0 L417.2 331.6 L416.2 332.7 L415.4 334.1 L416.5 335.0 L417.9 335.3 L415.9 335.7 L414.2 336.6 L413.3 335.6 L412.3 334.7 L411.1 333.5 L410.5 334.7 L410.9 336.6 L411.1 338.4 L411.1 340.3 L410.8 342.1 L410.6 344.0 L410.1 345.8 L409.6 347.7 L409.6 349.6 L410.1 351.1 L409.8 352.6 L410.6 353.8 L410.8 355.1 L412.1 355.3 L413.3 355.1"/>
<path d="M414.8 333.5 L418.5 330.4 L421.6 328.5 L425.3 326.7 L427.1 327.3 L424.7 329.8 L421.0 331.6 L418.5 333.5 L416.0 335.3"/>
<path d="M404.3 339.7 L405.5 339.1 L406.7 339.0 L408.1 339.0 L409.2 339.7 L410.2 340.4 L410.5 341.5 L409.5 342.4 L408.6 343.4 L409.4 344.5 L409.8 345.8 L408.6 346.5 L408.0 347.7 L407.3 348.9 L407.4 350.2 L405.5 350.2 L406.2 348.7 L406.1 347.1 L405.2 346.3 L404.6 345.2 L404.7 343.9 L405.5 342.8 L404.6 341.3 L404.3 339.7"/>
<path d="M406.7 340.9 L407.4 344.0 L406.7 347.1"/>
<path d="M504.1 384.4 L504.5 383.2 L504.8 382.1 L506.2 382.4 L507.6 382.3 L507.9 381.0 L508.3 379.6 L507.7 378.3 L507.6 376.8 L508.6 375.4 L509.6 374.1 L510.4 372.8 L511.0 371.3 L511.8 370.4 L512.4 369.3 L511.9 367.8 L511.0 366.5 L511.7 365.4 L511.7 364.2 L512.7 366.1 L513.1 367.3 L513.8 368.3 L515.0 368.9 L515.8 370.0 L517.6 369.3 L517.7 367.8 L517.2 366.5 L516.7 364.8 L516.5 363.1 L517.3 361.4 L517.9 359.6 L518.4 357.9 L519.0 356.2 L519.9 354.2 L520.4 352.0 L520.6 349.9 L521.4 347.9 L521.5 345.8 L522.0 343.8 L522.5 342.0 L523.4 340.3 L524.2 339.1 L525.5 338.3 L527.1 338.9 L528.9 339.0 L531.0 339.5 L533.1 339.9 L534.8 340.3 L536.5 341.0 L537.9 342.0 L539.3 343.1 L537.9 343.8 L538.6 345.1 L540.0 345.8 L541.3 346.9 L542.7 347.9 L544.2 348.7 L545.5 350.0 L546.7 351.2 L548.2 352.0 L549.9 353.2 L551.7 354.1 L553.2 355.2 L555.1 355.5 L556.1 356.7 L556.5 358.2 L557.2 360.0 L557.9 361.7 L558.3 363.5 L559.2 365.1 L559.3 366.9 L559.9 368.6 L559.3 370.3 L559.5 372.0 L559.6 373.8 L559.0 375.5 L558.9 377.2 L558.5 378.9 L559.1 380.6 L559.0 382.3 L559.5 384.0 L559.5 385.8 L560.1 387.4 L561.3 388.5 L562.3 390.3 L563.4 392.0 L564.1 393.9 L565.4 395.4 L566.4 396.5 L567.0 397.9 L568.2 398.9 L569.6 400.2 L570.9 401.6 L572.0 402.6 L572.6 404.1 L573.7 405.1 L574.8 406.8 L576.5 408.0"/>
<path d="M539.3 345.2 L539.3 346.6 L538.6 347.9 L537.9 349.3 L537.5 350.7 L537.6 352.1 L537.9 353.4 L537.4 354.6 L536.5 355.5 L534.4 356.2 L533.8 357.3 L533.1 358.2 L532.4 359.6 L533.6 360.0 L534.4 361.0 L535.4 361.9 L535.8 363.1 L537.0 363.6 L537.9 364.4 L540.0 363.8 L541.0 363.4 L542.0 362.8 L543.4 364.4 L543.6 365.7 L544.1 366.9 L545.2 367.2 L546.1 367.9 L547.4 368.2 L548.2 369.3 L549.3 369.6 L550.3 370.2 L551.4 369.9 L552.3 369.3 L552.8 368.1 L553.7 367.2 L553.2 365.9 L553.0 364.4 L552.1 363.6 L551.7 362.4 L551.2 361.2 L550.3 360.3 L548.2 359.6 L547.6 358.6 L546.8 357.6 L545.8 356.7 L545.5 355.5 L544.6 354.6 L544.4 353.4 L542.7 352.0 L541.9 351.1 L541.3 350.0 L540.8 348.8 L540.2 347.6 L539.9 346.3 L539.3 345.2"/>
<path d="M524.1 354.1 L525.5 352.7 L527.6 353.4 L528.4 354.3 L528.7 355.5 L528.7 356.9 L528.2 358.2 L528.4 359.7 L528.9 361.0 L529.6 362.3 L530.0 363.8 L531.0 364.7 L531.7 365.8 L532.8 366.4 L533.8 367.2 L535.2 367.5 L536.5 366.9 L537.6 367.5 L538.6 368.3 L536.9 369.3 L535.8 369.0 L534.7 368.8 L534.4 370.1 L533.8 371.3 L534.0 373.0 L534.2 374.8 L534.1 376.5 L534.7 378.2 L534.7 380.0 L535.5 381.7 L535.9 383.4 L536.1 385.1 L536.8 386.8 L536.9 388.5 L537.4 390.0 L538.3 391.3 L539.3 392.2 L540.0 393.4 L539.6 394.6 L538.6 395.4 L536.5 394.7 L535.7 393.5 L534.4 392.7 L533.7 391.3 L533.1 389.9 L532.6 388.4 L531.7 387.2 L531.1 385.8 L530.6 384.4 L530.4 382.9 L529.6 381.7 L528.9 380.3 L528.2 378.9 L527.6 377.6 L527.6 376.1 L526.5 375.0 L526.2 373.4 L525.9 372.0 L525.5 370.6 L526.9 370.0 L527.8 370.7 L528.9 371.3 L529.6 369.3 L530.3 367.2 L529.9 366.0 L528.9 365.1 L527.8 364.3 L527.3 363.1 L526.5 361.8 L525.5 360.6 L524.7 359.5 L524.1 358.2 L523.4 356.2 L524.1 354.1"/>
<path d="M528.9 389.2 L529.6 390.3 L530.3 391.3 L531.2 392.6 L531.4 394.1 L531.9 395.4 L532.0 396.8 L532.8 397.9 L533.8 398.9 L534.5 400.2 L535.8 400.9 L537.0 401.3 L537.9 402.3 L538.9 403.0 L540.0 403.7 L541.1 405.5 L539.3 406.5 L538.4 405.5 L537.2 405.1 L536.5 403.7 L535.1 403.0 L533.9 402.2 L533.1 400.9 L532.0 400.1 L531.4 398.9 L531.1 397.3 L530.0 396.1 L529.9 394.3 L528.9 392.7 L528.9 391.0 L528.9 389.2"/>
<path d="M523.4 392.0 L524.8 391.3 L524.5 394.7 L525.5 397.5 L523.7 396.8 L522.7 394.7 L523.4 392.0"/>
<path d="M526.2 398.9 L527.6 400.3"/>
<path d="M525.5 404.4 L527.6 405.1"/>
<path d="M526.2 382.3 L526.4 384.0"/>
<path d="M541.3 391.3 L542.4 392.0"/>
<path d="M547.5 377.5 L548.3 376.2 L549.6 375.5 L551.2 374.8 L550.6 376.1 L550.7 377.5 L550.4 378.7 L549.9 379.9 L550.5 381.0 L551.7 381.7 L552.6 382.4 L553.7 383.0 L554.8 384.0 L556.2 384.4 L557.3 385.3 L557.9 386.5 L556.5 387.6 L555.6 386.7 L554.4 386.2 L553.1 385.7 L552.1 384.8 L550.9 384.4 L549.9 383.7 L548.8 383.1 L547.5 383.0 L546.1 381.7 L547.1 380.8 L547.5 379.6 L547.5 377.5"/>
<path d="M551.7 370.6 L554.4 371.3 L555.1 373.0 L553.0 372.4 L551.7 370.6"/>
<path d="M552.3 376.1 L554.4 376.8"/>
<path d="M550.3 388.5 L552.3 390.6 L554.4 393.4 L556.5 395.8 L559.2 397.5 L562.0 399.6 L564.7 401.6 L567.5 403.7 L569.6 405.8 L570.9 408.0"/>
<path d="M550.3 388.5 L551.0 391.3 L553.0 394.1 L555.1 396.1 L557.2 398.2 L558.5 400.3 L560.6 402.3 L562.0 404.4 L563.4 406.5 L564.7 408.0"/>
<path d="M559.0 385.0 L559.8 386.2 L559.9 387.7 L561.0 388.8 L561.7 390.3 L562.7 391.8 L563.5 393.4 L564.3 394.8 L565.2 396.1 L566.4 397.1 L567.5 398.3 L569.0 399.1 L570.1 400.5 L571.4 401.4 L572.3 402.7 L573.1 403.9 L574.1 404.9 L575.0 406.1 L576.3 406.7 L577.7 407.5 L578.5 408.9 L579.6 410.1 L580.7 411.1 L581.7 412.3 L583.0 413.2 L584.5 413.6 L585.6 414.7 L586.8 415.5 L588.3 415.8 L589.7 416.0 L590.9 416.9 L592.0 417.8 L593.1 418.7 L594.2 419.2 L595.4 419.7 L596.4 420.2 L597.6 420.4 L598.0 421.8 L596.7 422.6 L595.4 423.5 L594.5 425.3 L595.8 426.6 L597.6 425.9 L598.9 424.9 L600.7 425.3 L601.6 426.6 L602.4 428.4 L603.3 429.7 L602.4 430.6 L601.6 429.3"/>
<path d="M550.6 388.5 L551.4 389.6 L552.0 390.8 L552.9 391.8 L553.7 393.0 L554.6 394.1 L555.5 395.2 L556.7 396.2 L557.7 397.4 L558.5 396.6 L559.0 395.6 L560.8 395.5 L561.7 396.2 L562.6 397.0 L563.5 397.8 L564.4 398.7 L565.7 399.3 L566.6 400.5 L567.6 401.5 L568.8 402.3 L569.5 403.4 L570.1 404.5 L570.6 405.5 L570.6 406.7 L569.2 407.6 L567.5 406.7 L566.7 405.6 L565.7 404.9 L565.0 403.9 L563.9 403.2 L563.0 402.3 L562.1 401.4 L560.8 400.1 L559.9 401.8 L560.8 402.8 L561.3 404.0 L561.9 405.1 L562.6 406.3 L563.9 406.6 L564.8 407.6 L565.9 408.0 L566.6 408.9 L567.5 409.8 L568.3 410.7 L569.6 410.8 L570.6 411.6 L571.7 412.2 L572.8 412.9 L573.7 414.7 L574.5 415.3 L575.4 416.0 L576.8 415.6 L578.1 416.0 L579.2 415.9 L580.3 415.6 L582.1 416.4 L583.0 417.1 L583.4 418.2 L584.3 420.0 L583.9 421.1 L583.8 422.2 L583.4 421.2 L582.5 420.4 L581.2 419.1 L579.9 420.4 L579.4 421.5 L579.0 422.6 L578.3 423.6 L577.2 424.0 L575.4 423.5 L574.1 422.2 L573.2 420.4 L573.7 418.7 L572.3 417.3 L570.6 417.8 L569.7 418.4 L568.8 419.1 L569.2 420.4 L571.0 420.0 L572.3 418.7"/>
<path d="M550.6 388.5 L552.4 391.6 L554.6 394.3 L556.8 397.0 L559.0 399.2 L560.8 400.1"/>
<path d="M563.9 400.1 L566.1 401.8 L567.9 404.0 L568.8 406.3"/>
<path d="M575.4 416.9 L577.2 418.2 L576.3 420.0 L578.1 420.9 L579.9 419.1 L579.0 417.3 L577.2 418.2"/>
<path d="M575.9 424.4 L576.3 426.6 L577.6 428.8 L579.4 431.1 L581.2 433.3 L583.0 435.0"/>
<path d="M565.7 397.4 L568.3 399.6 L571.0 402.3 L573.7 405.4 L576.3 408.2 L579.0 411.1 L581.6 413.8 L584.3 415.6 L586.9 417.3 L589.2 419.5 L590.9 420.9 L593.1 420.4"/>
<path d="M557.7 405.8 L559.0 407.1 L560.8 408.9 L562.6 410.2 L564.4 411.1 L562.6 410.7 L560.8 409.4 L559.0 407.6 L557.7 405.8"/>
<path d="M548.0 412.0 L549.3 411.4 L550.2 412.5 L549.6 413.8 L550.6 414.9 L549.9 416.2 L548.7 415.6 L548.9 414.2 L548.0 413.2 L548.0 412.0"/>
<path d="M553.3 412.5 L555.1 412.0 L556.4 413.2 L555.8 414.4 L556.8 415.6 L555.5 416.7 L554.0 416.2"/>
<path d="M558.9 413.8 L559.2 413.9"/>
<path d="M543.5 416.4 L545.3 417.8 L547.5 419.1 L545.8 418.5 L544.0 417.1 L543.5 416.4"/>
<path d="M540.0 404.0 L541.3 405.8 L542.2 408.5 L540.9 408.9 L540.0 406.7"/>
<path d="M540.9 391.6 L542.2 391.2"/>
<path d="M540.0 393.9 L540.9 394.6"/>
<path d="M553.3 385.0 L555.5 386.8 L557.3 388.5 L559.0 387.2 L558.2 385.4"/>
<path d="M575.9 425.0 L576.2 426.1 L576.3 427.2 L576.9 428.4 L578.1 429.0 L579.2 429.9 L579.9 431.2 L580.5 432.5 L581.6 433.4 L582.4 434.8 L583.8 435.6 L584.8 436.9 L586.1 437.8 L587.0 439.0 L588.3 439.6 L589.6 440.5 L590.5 441.8 L591.3 443.2 L592.7 444.0 L593.8 445.1 L594.9 446.3 L595.8 447.5 L597.1 448.0 L598.0 449.0 L599.3 449.4 L600.8 450.0 L602.0 451.1 L603.0 452.0 L604.2 452.5 L605.1 453.5 L606.4 453.8 L607.8 454.4 L608.6 455.6 L609.6 456.6 L610.4 457.8"/>
<path d="M564.8 428.1 L566.0 429.0 L567.5 429.4 L568.9 429.8 L570.1 430.8 L571.2 431.9 L572.8 432.5 L574.2 433.5 L575.4 434.7 L576.3 436.1 L577.6 437.0 L579.0 437.8 L579.9 439.2 L581.0 440.3 L582.1 441.4 L582.9 442.6 L584.3 443.2 L585.6 443.8 L586.5 444.9 L587.7 445.6 L588.7 446.7 L590.0 447.6 L591.4 448.5 L592.6 449.2 L593.6 450.2 L594.5 451.6 L592.7 451.1 L591.4 450.8 L590.5 449.8 L589.2 449.1 L588.3 448.0 L587.0 447.4 L586.1 446.3 L585.2 445.1 L583.8 444.5 L582.8 443.5 L581.6 442.7 L580.8 441.4 L579.4 440.5 L578.1 439.6 L577.2 438.3 L576.3 437.0 L575.0 436.1 L573.4 435.2 L572.3 433.9 L571.0 432.9 L569.7 432.1 L568.4 431.1 L567.0 430.3 L565.8 429.3 L564.8 428.1"/>
<path d="M555.9 425.9 L558.6 427.2 L561.3 429.0 L563.9 430.8 L561.7 429.9 L559.0 428.4 L556.4 426.8 L555.9 425.9"/>
<path d="M557.3 430.8 L558.4 431.9 L559.9 432.5 L561.2 433.7 L562.6 434.7 L563.9 435.9 L565.2 437.0 L566.1 438.3 L567.5 439.2 L568.8 440.3 L569.7 441.8 L570.2 443.4 L571.4 444.5 L572.5 445.7 L573.7 446.7 L575.0 447.7 L576.3 448.9 L577.5 450.0 L579.0 450.7 L580.4 451.4 L581.6 452.5 L582.7 453.7 L584.3 454.2 L585.6 455.0 L586.9 455.6 L588.1 456.3 L589.2 457.3 L589.9 458.6 L590.9 459.5 L589.6 460.4 L588.5 459.8 L587.4 459.1 L586.1 458.4 L585.2 457.3 L584.2 456.3 L583.0 455.6 L581.4 455.0 L580.3 453.8 L579.1 452.7 L577.6 452.0 L576.2 451.1 L575.0 449.8 L574.0 448.6 L572.8 447.6 L572.0 446.0 L570.6 444.9 L569.7 443.6 L568.8 442.3 L567.8 440.8 L566.6 439.6 L565.1 438.6 L563.9 437.4 L562.3 436.6 L561.3 435.2 L559.7 434.4 L558.6 433.0 L557.7 432.0 L557.3 430.8"/>
<path d="M558.2 432.1 L559.4 433.3 L560.8 434.3 L562.2 435.4 L563.5 436.5 L564.6 437.6 L565.7 438.7 L566.5 440.3 L567.9 441.4 L569.2 442.5 L569.9 444.0 L571.1 445.0 L571.9 446.3 L573.1 447.5 L574.5 448.5 L576.1 449.2 L577.2 450.7 L578.8 451.2 L579.9 452.5 L581.3 453.2 L582.5 454.2 L584.0 454.8 L585.2 456.0 L586.6 456.8 L587.8 457.8 L588.9 458.5 L589.6 459.5"/>
<path d="M572.3 436.1 L574.1 437.8 L575.9 439.6 L577.6 441.4 L576.8 442.3 L575.0 440.5 L573.2 438.7 L571.9 437.0 L572.3 436.1"/>
<path d="M583.8 447.6 L586.1 447.1 L584.7 448.5"/>
<path d="M582.5 451.6 L585.2 451.1 L587.8 452.5 L589.6 454.2 L590.5 456.4 L589.2 458.2 L586.9 456.9 L584.7 455.1 L583.0 453.3 L582.5 451.6"/>
<path d="M583.8 452.5 L586.1 453.3 L588.3 455.1 L589.2 456.9"/>
<path d="M586.1 458.7 L588.7 459.5 L591.4 460.4 L593.1 461.3 L595.8 462.6 L598.0 464.0 L599.8 465.3 L597.6 465.7 L595.8 464.4"/>
<path d="M597.1 451.6 L598.9 452.5 L598.0 454.2 L599.3 453.3 L600.5 453.0 L601.6 452.5 L602.6 453.0 L603.8 453.3 L605.0 453.8 L606.0 454.7 L607.0 455.4 L608.2 456.0 L608.4 457.1 L608.6 458.2 L606.9 459.1 L605.8 458.7 L605.1 457.8 L604.5 456.6 L603.3 456.0 L602.3 455.5 L601.6 454.7"/>
<path d="M603.8 454.7 L606.0 456.4 L607.3 457.9"/>
<path d="M607.3 462.6 L609.1 463.1 L610.4 464.4 L610.0 466.2 L608.6 465.3 L607.3 464.0 L607.3 462.6"/>
<path d="M604.7 466.2 L606.9 467.1 L609.1 468.4 L610.4 469.3 L608.6 468.8 L606.4 467.7 L604.7 466.2"/>
<path d="M522.7 395.0 L524.1 397.1 L527.6 399.1"/>
<path d="M525.5 404.4 L527.6 404.9"/>
<path d="M531.0 397.8 L533.8 400.5 L537.2 403.3 L540.6 405.3 L541.3 408.1 L539.3 408.8 L537.2 406.0 L534.4 403.3 L531.7 400.5 L531.0 397.8"/>
<path d="M540.0 408.8 L542.0 409.5"/>
<path d="M427.3 374.3 L426.0 378.0 L424.5 381.7 L421.7 383.5 L418.9 385.0 L418.0 382.6 L419.9 379.8 L422.3 378.9 L423.6 381.3 L421.7 383.5"/>
<path d="M418.9 385.0 L417.6 385.5 L416.2 385.4 L414.5 384.6 L413.4 383.2 L412.5 384.2 L411.9 385.4 L410.9 387.1 L410.6 389.1 L410.2 390.6 L410.3 392.2 L410.0 393.7 L410.6 395.2 L411.2 396.7 L411.2 398.4 L412.0 399.8 L413.0 401.2 L413.1 402.7 L413.4 404.2 L413.4 405.8 L413.4 407.3 L413.7 408.9 L413.7 410.4 L413.7 412.1 L414.3 413.6 L414.9 415.1 L415.5 416.5 L415.4 418.3 L416.2 419.7 L417.0 421.1 L417.0 422.8 L417.5 424.3 L418.0 425.9 L418.7 427.4 L418.9 429.0 L420.2 430.0 L420.6 431.6 L421.7 432.7 L423.0 433.7 L423.5 435.2 L424.5 436.4 L425.9 438.1 L427.8 439.2 L429.1 440.1 L430.1 441.2 L431.0 442.5 L432.3 444.1 L433.8 445.7 L435.2 447.1 L436.6 448.4 L437.9 449.5 L439.3 450.3 L441.2 450.8 L443.0 450.7 L445.0 451.1 L446.8 452.2 L448.7 453.1 L450.5 454.4 L451.8 455.2 L453.2 456.0 L454.2 457.3 L455.2 458.7 L456.5 459.6 L457.9 460.5 L459.0 461.7 L460.6 462.3 L461.6 463.6 L462.6 465.0 L463.9 466.0 L465.3 467.0 L466.6 467.9 L467.6 469.1 L469.0 470.0"/>
<path d="M423.6 450.3 L426.4 448.4 L427.8 450.7 L426.7 454.9 L424.5 457.3 L421.7 456.2 L421.2 453.1 L423.6 450.3"/>
<path d="M469.6 471.2 L471.0 472.0 L472.6 472.6 L473.8 473.7 L475.4 474.1 L476.8 474.9 L478.1 475.8 L479.6 476.0 L481.0 476.8 L482.3 477.5 L483.7 476.8 L484.8 475.8 L486.1 477.3 L487.6 478.6 L489.0 480.2 L490.8 481.3 L492.5 482.2 L492.5 484.1 L492.9 486.0 L493.7 487.7 L494.0 489.5 L494.6 491.3 L495.3 493.0 L495.7 494.9 L496.7 496.5 L497.3 498.1 L498.2 499.6 L498.5 501.3 L499.2 502.9 L499.7 504.8 L501.2 506.3 L501.8 508.2 L502.2 510.1 L503.6 511.5 L503.9 513.5 L504.8 514.8 L505.5 516.2 L506.0 517.7 L506.2 519.5 L506.5 521.3 L507.3 523.0 L507.6 524.8 L508.4 526.5 L508.8 528.3 L508.9 529.9 L509.9 531.3 L510.2 532.9 L510.9 534.3 L510.7 535.9 L511.5 537.2"/>
<path d="M598.0 513.0 L599.3 513.0"/>
<path d="M116.6 314.8 L118.1 315.7 L119.7 316.3 L119.2 317.9 L119.0 319.5 L119.0 321.3 L119.3 323.2 L119.7 324.8 L120.8 326.0 L121.8 327.1 L122.7 328.2 L123.6 329.3 L124.9 330.0 L125.7 331.4 L126.8 332.4 L127.6 333.9 L129.0 334.9 L128.7 336.4 L128.2 338.0 L127.1 339.3 L126.4 340.8 L125.8 342.2 L125.3 343.6 L125.7 344.9 L125.8 346.4 L125.1 347.6 L124.0 348.6 L122.4 348.8 L120.8 349.1 L119.2 349.8 L117.5 349.7 L115.9 350.3 L114.7 351.5 L113.7 352.9 L112.3 353.8 L111.6 354.8 L110.4 355.3 L109.1 355.3 L107.8 354.7 L106.8 353.9 L105.4 353.8 L104.1 354.4 L102.6 354.7 L101.3 355.3 L99.9 355.3 L98.7 356.3 L97.1 356.6 L97.3 357.8 L96.7 359.0 L97.5 360.2 L98.6 361.2 L98.8 362.6 L99.3 364.0 L100.7 364.6 L102.3 364.9 L102.7 366.4 L103.6 367.7 L104.0 369.5 L103.6 371.4 L104.2 372.6 L104.9 373.8 L106.2 374.6 L107.3 375.7 L108.6 376.6 L110.1 377.0 L111.4 377.7 L112.8 377.9 L113.9 378.7 L115.3 378.8 L116.6 379.1 L117.5 380.1 L117.3 381.8 L117.9 383.4 L117.8 385.2 L118.4 386.8 L118.7 388.3 L119.7 389.4 L120.8 391.2 L119.1 391.4 L117.5 390.9 L116.5 391.8 L115.3 392.3 L114.8 393.8 L113.8 394.9"/>
<path d="M114.1 395.0 L114.2 396.8 L113.4 398.3 L112.0 399.4 L111.0 400.9 L109.4 401.9 L108.2 403.3 L108.3 404.8 L108.6 406.1 L109.3 407.7 L110.4 408.9 L111.1 410.4 L111.9 411.7 L110.9 412.6 L109.7 413.2 L110.2 414.7 L110.1 416.3 L111.1 417.5 L111.5 419.1 L112.0 420.6 L112.8 421.9 L114.0 423.1 L114.7 424.7 L115.8 426.0 L116.6 427.4 L118.0 427.8 L119.3 428.4 L120.9 428.4 L122.1 429.3 L123.6 429.8 L124.9 430.6 L126.1 431.2 L127.1 432.1 L128.2 433.0 L129.5 433.6 L131.0 433.8 L132.3 434.3 L133.8 434.9 L135.1 435.8 L136.4 436.7 L137.9 436.7 L139.7 436.3 L141.6 435.8 L143.1 435.6 L144.4 434.9 L146.0 434.7 L147.5 434.3 L149.1 433.5 L150.9 433.6 L152.7 433.0 L153.3 434.4 L153.6 435.8 L154.3 437.6 L154.9 439.5 L154.3 441.1 L154.2 442.8 L153.4 444.2 L152.3 445.4 L151.3 446.5 L150.5 447.8 L149.3 449.0 L148.1 450.3 L147.0 451.6 L145.7 452.5 L144.7 453.7 L144.4 455.3 L143.7 456.5 L142.5 457.1 L142.2 458.5 L142.5 459.9 L143.3 461.5 L143.4 463.2"/>
<path d="M143.4 463.2 L142.3 464.5 L140.7 465.1 L139.3 465.7 L137.9 465.8 L136.4 466.6 L135.1 467.7 L133.5 468.0 L132.3 469.2 L130.8 470.1 L129.0 470.1 L127.4 470.8 L125.8 471.4 L124.4 472.1 L123.0 472.9 L121.9 474.1 L121.2 475.7 L121.0 477.1 L120.3 478.4 L120.0 479.6 L119.7 480.7 L119.0 481.8 L117.8 482.1 L116.6 482.2 L115.3 483.6 L114.2 482.5 L112.8 481.8 L111.7 482.2 L110.4 482.2 L109.4 483.4 L109.1 484.9 L108.7 486.4 L107.8 487.7 L106.8 488.8 L105.4 489.6 L104.0 489.9 L102.6 490.5 L101.3 490.8 L99.9 491.1 L98.8 492.0 L97.5 492.3 L96.7 493.7 L96.2 495.1 L95.2 496.5 L93.7 497.4 L92.0 498.1 L90.6 499.2 L89.3 500.0"/>
<path d="M143.4 463.2 L145.3 463.8 L147.2 464.0 L149.0 464.5 L150.9 464.5 L152.8 464.0 L154.6 463.2 L156.4 462.4 L158.3 461.8 L160.1 461.2 L162.0 460.8 L163.8 460.5 L165.7 460.3 L167.7 460.0 L169.4 459.0 L171.1 457.7 L173.1 457.1 L174.5 456.6 L175.3 455.2 L176.8 454.7 L177.9 453.6 L179.2 452.8 L180.5 452.1 L181.6 450.6 L182.0 448.8 L182.9 447.1 L183.9 445.4 L184.1 443.8 L184.6 442.3 L185.8 440.9 L186.5 439.1 L187.5 437.8 L188.9 436.7 L190.4 435.8 L192.0 434.9 L193.7 434.4 L195.4 433.9 L196.6 433.0 L197.6 431.7 L197.6 430.0 L197.2 428.4 L198.3 427.1 L199.1 425.6 L200.4 424.3 L201.9 423.2 L203.1 422.0 L204.6 421.0 L205.9 419.8 L207.4 419.1 L208.9 418.6 L210.0 417.6"/>
<path d="M89.9 499.9 L89.2 500.7 L88.6 501.7 L90.2 501.9 L91.8 501.7 L93.1 501.9 L94.2 502.6 L94.0 504.3 L93.6 506.0 L92.5 507.1 L91.8 508.6 L90.8 509.3 L89.9 510.1 L88.4 509.6 L87.2 508.6 L85.8 509.2 L84.4 509.7 L82.9 509.7 L81.6 510.4 L80.2 510.7 L78.8 510.4 L77.5 511.4 L76.0 511.9 L75.2 513.0 L74.2 513.8 L74.5 515.6 L73.5 515.0 L72.3 514.7 L71.4 513.5 L70.1 512.8 L68.6 513.2 L67.1 512.8 L65.9 513.6 L64.5 513.8 L63.8 514.9 L62.7 515.6 L62.3 516.8 L61.6 517.9 L62.3 518.8 L63.0 519.7 L61.6 519.6 L60.3 519.0 L59.8 517.3 L59.7 515.6 L58.4 515.7 L57.1 515.3 L56.1 514.3 L54.7 514.1 L53.4 513.6 L51.9 513.4 L50.6 513.2 L49.7 512.3 L48.8 513.3 L48.6 514.7 L47.6 514.0 L47.3 512.8 L46.9 514.3 L46.4 515.6 L45.2 516.0 L44.5 517.1 L43.5 516.1 L42.3 515.6 L41.9 514.2 L41.2 512.8 L40.0 511.7 L38.9 510.4 L37.7 510.0 L36.7 509.1 L36.1 507.9 L35.2 506.7 L33.9 506.4 L33.0 505.4 L31.9 506.1 L30.6 506.4 L29.3 505.3 L28.2 504.1 L27.0 504.3 L26.0 503.6 L24.6 503.7 L23.2 503.6 L21.8 503.0 L20.4 503.0 L19.3 502.7 L18.2 502.6 L16.3 502.3 L17.2 500.6 L18.2 498.9 L18.0 497.1 L17.6 495.2 L17.3 493.4 L17.1 491.5 L16.3 491.2"/>
<path d="M63.0 520.8 L65.8 520.3 L67.1 522.1 L64.9 523.4 L63.0 522.1 L63.0 520.8"/>
<path d="M74.2 521.6 L77.0 520.8 L79.7 519.7 L82.5 519.0 L81.6 520.8 L78.8 522.1 L76.0 522.7 L74.2 521.6"/>
<path d="M210.0 417.3 L211.4 416.0 L213.2 415.4 L215.0 415.3 L216.9 415.0 L218.8 415.3 L220.6 415.8 L221.9 416.9 L223.4 417.6 L225.2 418.3 L227.1 418.2 L228.9 418.4 L230.8 418.7 L232.6 419.4 L234.5 420.0 L235.5 421.1 L236.7 421.9 L237.1 423.1 L237.3 424.3 L238.6 424.4 L239.7 425.0 L240.5 424.0 L241.0 422.8 L242.4 423.2 L243.8 422.8 L245.0 423.8 L246.6 424.3 L247.8 425.4 L249.3 426.2 L250.0 427.5 L251.2 428.4 L252.5 429.4 L254.0 430.2 L255.3 431.1 L256.8 431.7 L258.2 432.6 L259.5 433.6 L260.9 434.6 L261.9 435.8 L263.0 437.3 L264.2 438.6 L265.7 438.7 L267.0 439.5 L268.4 440.4 L269.7 441.4 L271.0 442.7 L272.5 443.6 L273.8 444.7 L275.3 445.4 L275.6 443.4 L275.7 441.4 L276.4 442.4 L276.8 443.6 L277.9 443.8 L279.0 444.1 L280.4 445.0 L281.8 446.0 L282.5 444.8 L283.1 443.6 L283.7 444.8 L284.2 446.0 L285.3 446.1 L286.4 446.0 L287.6 447.2 L289.2 447.8 L290.8 448.8 L292.0 450.3 L293.0 451.6 L294.2 452.9 L294.9 454.5 L296.1 455.8 L296.9 457.4 L297.5 459.0 L298.3 460.8 L299.0 462.7 L299.0 464.6 L299.8 466.4 L300.5 468.5 L300.3 470.7 L300.1 472.7 L300.0 474.7 L300.7 476.5 L300.9 478.4 L300.8 480.3 L301.3 482.2 L301.3 484.1 L302.2 485.9 L302.8 487.7 L303.5 489.6 L305.0 491.0 L305.9 492.9 L306.6 494.2 L307.5 495.4 L308.3 496.6 L309.1 498.4 L310.2 500.0"/>
<path d="M309.7 499.1 L310.3 500.6 L310.9 502.1 L311.6 503.5 L312.2 504.9 L313.2 506.1 L314.0 507.4 L314.5 509.0 L314.4 510.8 L315.2 512.3 L315.6 514.3 L315.3 516.3 L315.6 518.2 L315.6 520.2 L315.1 522.1 L315.2 524.1 L315.0 525.7 L313.7 527.0 L313.6 528.6 L312.9 529.9 L312.0 531.0 L312.7 532.4 L312.6 534.0 L313.7 534.3 L314.6 534.9 L315.5 533.9 L316.6 533.0 L317.9 532.2 L319.5 532.2 L321.5 532.3 L323.5 532.6 L325.0 533.2 L326.4 534.0 L327.6 535.1 L329.0 535.9 L330.0 537.3"/>
<path d="M245.1 536.9 L245.6 531.5 L246.9 527.8 L250.0 527.1 L252.5 528.5 L253.0 532.7 L253.5 536.9"/>
<path d="M272.7 523.6 L274.6 522.9 L275.6 525.4 L274.2 527.8 L272.2 526.6 L272.7 523.6"/>
<path d="M411.7 332.2 L415.5 335.5 L415.1 330.5 L418.9 333.7 L418.6 328.8 L422.2 332.0 L422.2 327.2 L425.7 330.3 L425.7 325.5 L429.0 328.5"/>
<path d="M413.0 336.7 L414.3 330.9 L416.5 335.0 L417.7 329.3 L419.8 333.2 L421.2 327.7 L423.3 331.5 L424.7 325.9 L426.6 329.8 L428.1 324.3"/>
<path d="M404.9 339.7 L409.7 340.9 L405.1 342.6 L409.5 343.9 L405.5 345.7 L409.3 347.0 L405.8 348.7 L409.1 349.9"/>
<path d="M471.7 312.1 L473.2 311.5 L475.0 312.1 L475.3 313.3 L474.0 314.2 L472.5 314.2 L471.7 313.3Z" fill="#000"/>
<path d="M47.5 513.4 L49.3 513.0 L50.1 514.9 L47.8 515.3Z" fill="#000"/>
<path d="M130.8 469.5 L132.3 469.2 L132.7 471.0 L131.2 471.0Z" fill="#000"/>
<path d="M277.6 494.4 L279.1 494.4 L279.1 495.8 L277.6 495.8Z" fill="#000"/>
</g>
</g>
<rect x="16.5" y="16.5" width="594" height="521" fill="none" stroke="#b4b4b4" stroke-width="1"/>
<rect x="638" y="53.00" width="37" height="37.10" fill="#800000"/>
<rect x="638" y="89.80" width="37" height="37.10" fill="#ff0000"/>
<rect x="638" y="126.60" width="37" height="37.10" fill="#ff8000"/>
<rect x="638" y="163.40" width="37" height="37.10" fill="#ffc800"/>
<rect x="638" y="200.20" width="37" height="37.10" fill="#ffff00"/>
<rect x="638" y="237.00" width="37" height="37.10" fill="#96ff00"/>
<rect x="638" y="273.80" width="37" height="37.10" fill="#00c800"/>
<rect x="638" y="310.60" width="37" height="37.10" fill="#009632"/>
<rect x="638" y="347.40" width="37" height="37.10" fill="#bebeff"/>
<rect x="638" y="384.20" width="37" height="37.10" fill="#8282ff"/>
<rect x="638" y="421.00" width="37" height="37.10" fill="#0000ff"/>
<rect x="638" y="457.80" width="37" height="37.10" fill="#c8c8c8"/>
<g fill="none" stroke="#000" stroke-linejoin="round" stroke-linecap="round">
<path d="M617.47 13.32 L617.47 34.67 M618.13 13.32 L618.13 34.67 M617.47 13.32 L622.14 13.32 M617.47 34.67 L622.14 34.67 M628.14 18.66 L629.47 17.99 L631.47 15.99 L631.47 30.00 M643.48 15.99 L641.48 16.66 L640.15 18.66 L639.48 22.00 L639.48 24.00 L640.15 27.33 L641.48 29.33 L643.48 30.00 L644.81 30.00 L646.82 29.33 L648.15 27.33 L648.82 24.00 L648.82 22.00 L648.15 18.66 L646.82 16.66 L644.81 15.99 L643.48 15.99" stroke-width="1.38"/>
<path d="M653.12 15.93 L653.79 15.60 L654.79 14.60 L654.79 21.60 M662.79 14.60 L659.46 14.60 L659.12 17.60 L659.46 17.26 L660.46 16.93 L661.46 16.93 L662.46 17.26 L663.12 17.93 L663.46 18.93 L663.46 19.60 L663.12 20.60 L662.46 21.27 L661.46 21.60 L660.46 21.60 L659.46 21.27 L659.12 20.93 L658.79 20.27" stroke-width="1.32"/>
<path d="M674.24 20.66 L674.24 30.00 M674.24 23.33 L676.24 21.33 L677.58 20.66 L679.58 20.66 L680.91 21.33 L681.58 23.33 L681.58 30.00 M681.58 23.33 L683.58 21.33 L684.91 20.66 L686.91 20.66 L688.25 21.33 L688.91 23.33 L688.91 30.00 M696.92 20.66 L695.58 21.33 L694.25 22.66 L693.58 24.66 L693.58 26.00 L694.25 28.00 L695.58 29.33 L696.92 30.00 L698.92 30.00 L700.25 29.33 L701.59 28.00 L702.25 26.00 L702.25 24.66 L701.59 22.66 L700.25 21.33 L698.92 20.66 L696.92 20.66 M706.92 15.99 L706.92 30.00 M711.59 24.66 L719.60 24.66 L719.60 23.33 L718.93 22.00 L718.26 21.33 L716.93 20.66 L714.93 20.66 L713.59 21.33 L712.26 22.66 L711.59 24.66 L711.59 26.00 L712.26 28.00 L713.59 29.33 L714.93 30.00 L716.93 30.00 L718.26 29.33 L719.60 28.00 M731.60 22.66 L730.27 21.33 L728.93 20.66 L726.93 20.66 L725.60 21.33 L724.26 22.66 L723.60 24.66 L723.60 26.00 L724.26 28.00 L725.60 29.33 L726.93 30.00 L728.93 30.00 L730.27 29.33 L731.60 28.00 M746.94 13.32 L734.94 34.67 M758.28 22.66 L756.95 21.33 L755.61 20.66 L753.61 20.66 L752.28 21.33 L750.94 22.66 L750.28 24.66 L750.28 26.00 L750.94 28.00 L752.28 29.33 L753.61 30.00 L755.61 30.00 L756.95 29.33 L758.28 28.00 M762.95 20.66 L762.95 30.00 M762.95 23.33 L764.95 21.33 L766.29 20.66 L768.29 20.66 L769.62 21.33 L770.29 23.33 L770.29 30.00 M770.29 23.33 L772.29 21.33 L773.62 20.66 L775.62 20.66 L776.96 21.33 L777.62 23.33 L777.62 30.00" stroke-width="1.38"/>
<path d="M781.83 16.26 L781.83 15.93 L782.16 15.26 L782.49 14.93 L783.16 14.60 L784.49 14.60 L785.16 14.93 L785.50 15.26 L785.83 15.93 L785.83 16.60 L785.50 17.26 L784.83 18.27 L781.49 21.60 L786.16 21.60" stroke-width="1.32"/>
<path d="M796.80 13.32 L796.80 34.67 M797.47 13.32 L797.47 34.67 M792.80 13.32 L797.47 13.32 M792.80 34.67 L797.47 34.67" stroke-width="1.38"/>
<path d="M697.24 51.62 L707.80 57.56 L697.24 63.50" stroke-width="1.25"/>
<path d="M704.50 82.94 L697.90 82.94 L697.24 88.88 L697.90 88.22 L699.88 87.56 L701.86 87.56 L703.84 88.22 L705.16 89.54 L705.82 91.52 L705.82 92.84 L705.16 94.82 L703.84 96.14 L701.86 96.80 L699.88 96.80 L697.90 96.14 L697.24 95.48 L696.58 94.16 M711.10 95.48 L710.44 96.14 L711.10 96.80 L711.76 96.14 L711.10 95.48 M720.34 82.94 L718.36 83.60 L717.04 85.58 L716.38 88.88 L716.38 90.86 L717.04 94.16 L718.36 96.14 L720.34 96.80 L721.66 96.80 L723.64 96.14 L724.96 94.16 L725.62 90.86 L725.62 88.88 L724.96 85.58 L723.64 83.60 L721.66 82.94 L720.34 82.94" stroke-width="1.25"/>
<path d="M703.18 154.94 L696.58 164.18 L706.48 164.18 M703.18 154.94 L703.18 168.80 M711.10 167.48 L710.44 168.14 L711.10 168.80 L711.76 168.14 L711.10 167.48 M720.34 154.94 L718.36 155.60 L717.04 157.58 L716.38 160.88 L716.38 162.86 L717.04 166.16 L718.36 168.14 L720.34 168.80 L721.66 168.80 L723.64 168.14 L724.96 166.16 L725.62 162.86 L725.62 160.88 L724.96 157.58 L723.64 155.60 L721.66 154.94 L720.34 154.94" stroke-width="1.25"/>
<path d="M697.90 229.54 L705.16 229.54 L701.20 234.82 L703.18 234.82 L704.50 235.48 L705.16 236.14 L705.82 238.12 L705.82 239.44 L705.16 241.42 L703.84 242.74 L701.86 243.40 L699.88 243.40 L697.90 242.74 L697.24 242.08 L696.58 240.76 M711.10 242.08 L710.44 242.74 L711.10 243.40 L711.76 242.74 L711.10 242.08 M720.34 229.54 L718.36 230.20 L717.04 232.18 L716.38 235.48 L716.38 237.46 L717.04 240.76 L718.36 242.74 L720.34 243.40 L721.66 243.40 L723.64 242.74 L724.96 240.76 L725.62 237.46 L725.62 235.48 L724.96 232.18 L723.64 230.20 L721.66 229.54 L720.34 229.54" stroke-width="1.25"/>
<path d="M697.24 305.84 L697.24 305.18 L697.90 303.86 L698.56 303.20 L699.88 302.54 L702.52 302.54 L703.84 303.20 L704.50 303.86 L705.16 305.18 L705.16 306.50 L704.50 307.82 L703.18 309.80 L696.58 316.40 L705.82 316.40 M711.10 315.08 L710.44 315.74 L711.10 316.40 L711.76 315.74 L711.10 315.08 M720.34 302.54 L718.36 303.20 L717.04 305.18 L716.38 308.48 L716.38 310.46 L717.04 313.76 L718.36 315.74 L720.34 316.40 L721.66 316.40 L723.64 315.74 L724.96 313.76 L725.62 310.46 L725.62 308.48 L724.96 305.18 L723.64 303.20 L721.66 302.54 L720.34 302.54" stroke-width="1.25"/>
<path d="M698.56 380.08 L699.88 379.42 L701.86 377.44 L701.86 391.30 M711.10 389.98 L710.44 390.64 L711.10 391.30 L711.76 390.64 L711.10 389.98 M720.34 377.44 L718.36 378.10 L717.04 380.08 L716.38 383.38 L716.38 385.36 L717.04 388.66 L718.36 390.64 L720.34 391.30 L721.66 391.30 L723.64 390.64 L724.96 388.66 L725.62 385.36 L725.62 383.38 L724.96 380.08 L723.64 378.10 L721.66 377.44 L720.34 377.44" stroke-width="1.25"/>
<path d="M700.54 450.14 L698.56 450.80 L697.24 452.78 L696.58 456.08 L696.58 458.06 L697.24 461.36 L698.56 463.34 L700.54 464.00 L701.86 464.00 L703.84 463.34 L705.16 461.36 L705.82 458.06 L705.82 456.08 L705.16 452.78 L703.84 450.80 L701.86 450.14 L700.54 450.14 M711.10 462.68 L710.44 463.34 L711.10 464.00 L711.76 463.34 L711.10 462.68 M720.34 450.14 L718.36 450.80 L717.04 452.78 L716.38 456.08 L716.38 458.06 L717.04 461.36 L718.36 463.34 L720.34 464.00 L721.66 464.00 L723.64 463.34 L724.96 461.36 L725.62 458.06 L725.62 456.08 L724.96 452.78 L723.64 450.80 L721.66 450.14 L720.34 450.14" stroke-width="1.25"/>
<path d="M707.80 481.82 L697.24 487.76 L707.80 493.70" stroke-width="1.25"/>
<path d="M632.62 514.25 L632.62 521.20 M632.62 514.25 L635.60 514.25 L636.60 514.58 L636.93 514.91 L637.26 515.57 L637.26 516.57 L636.93 517.23 L636.60 517.56 L635.60 517.89 L632.62 517.89 M641.23 514.25 L640.57 514.58 L639.91 515.24 L639.57 515.90 L639.24 516.90 L639.24 518.55 L639.57 519.55 L639.91 520.21 L640.57 520.87 L641.23 521.20 L642.55 521.20 L643.22 520.87 L643.88 520.21 L644.21 519.55 L644.54 518.55 L644.54 516.90 L644.21 515.90 L643.88 515.24 L643.22 514.58 L642.55 514.25 L641.23 514.25 M646.86 514.25 L646.86 521.20 M646.86 521.20 L650.83 521.20 M652.48 514.25 L652.48 521.20 M652.48 514.25 L655.46 514.25 L656.46 514.58 L656.79 514.91 L657.12 515.57 L657.12 516.57 L656.79 517.23 L656.46 517.56 L655.46 517.89 L652.48 517.89 M661.09 514.25 L660.43 514.58 L659.77 515.24 L659.43 515.90 L659.10 516.90 L659.10 518.55 L659.43 519.55 L659.77 520.21 L660.43 520.87 L661.09 521.20 L662.41 521.20 L663.08 520.87 L663.74 520.21 L664.07 519.55 L664.40 518.55 L664.40 516.90 L664.07 515.90 L663.74 515.24 L663.08 514.58 L662.41 514.25 L661.09 514.25 M672.01 514.25 L672.01 521.20 M672.01 514.25 L674.33 514.25 L675.32 514.58 L675.99 515.24 L676.32 515.90 L676.65 516.90 L676.65 518.55 L676.32 519.55 L675.99 520.21 L675.32 520.87 L674.33 521.20 L672.01 521.20 M682.61 516.57 L682.61 521.20 M682.61 517.56 L681.94 516.90 L681.28 516.57 L680.29 516.57 L679.63 516.90 L678.96 517.56 L678.63 518.55 L678.63 519.21 L678.96 520.21 L679.63 520.87 L680.29 521.20 L681.28 521.20 L681.94 520.87 L682.61 520.21 M685.58 514.25 L685.58 519.88 L685.92 520.87 L686.58 521.20 L687.24 521.20 M684.59 516.57 L686.91 516.57 M692.87 516.57 L692.87 521.20 M692.87 517.56 L692.20 516.90 L691.54 516.57 L690.55 516.57 L689.89 516.90 L689.23 517.56 L688.89 518.55 L688.89 519.21 L689.23 520.21 L689.89 520.87 L690.55 521.20 L691.54 521.20 L692.20 520.87 L692.87 520.21 M699.82 514.25 L702.47 521.20 M705.11 514.25 L702.47 521.20 M706.44 514.25 L706.77 514.58 L707.10 514.25 L706.77 513.92 L706.44 514.25 M706.77 516.57 L706.77 521.20 M712.73 517.56 L712.40 516.90 L711.40 516.57 L710.41 516.57 L709.42 516.90 L709.09 517.56 L709.42 518.22 L710.08 518.55 L711.73 518.88 L712.40 519.21 L712.73 519.88 L712.73 520.21 L712.40 520.87 L711.40 521.20 L710.41 521.20 L709.42 520.87 L709.09 520.21 M715.04 516.57 L715.04 519.88 L715.37 520.87 L716.04 521.20 L717.03 521.20 L717.69 520.87 L718.68 519.88 M718.68 516.57 L718.68 521.20 M724.97 516.57 L724.97 521.20 M724.97 517.56 L724.31 516.90 L723.65 516.57 L722.66 516.57 L721.99 516.90 L721.33 517.56 L721.00 518.55 L721.00 519.21 L721.33 520.21 L721.99 520.87 L722.66 521.20 L723.65 521.20 L724.31 520.87 L724.97 520.21 M727.62 514.25 L727.62 521.20 M729.94 514.25 L730.27 514.58 L730.60 514.25 L730.27 513.92 L729.94 514.25 M730.27 516.57 L730.27 521.20 M736.23 517.56 L735.90 516.90 L734.90 516.57 L733.91 516.57 L732.92 516.90 L732.59 517.56 L732.92 518.22 L733.58 518.55 L735.23 518.88 L735.90 519.21 L736.23 519.88 L736.23 520.21 L735.90 520.87 L734.90 521.20 L733.91 521.20 L732.92 520.87 L732.59 520.21 M742.19 516.57 L742.19 521.20 M742.19 517.56 L741.52 516.90 L740.86 516.57 L739.87 516.57 L739.21 516.90 L738.54 517.56 L738.21 518.55 L738.21 519.21 L738.54 520.21 L739.21 520.87 L739.87 521.20 L740.86 521.20 L741.52 520.87 L742.19 520.21 M745.16 514.25 L745.16 519.88 L745.50 520.87 L746.16 521.20 L746.82 521.20 M744.17 516.57 L746.49 516.57 M748.47 514.25 L748.80 514.58 L749.14 514.25 L748.80 513.92 L748.47 514.25 M748.80 516.57 L748.80 521.20 M752.78 516.57 L752.12 516.90 L751.45 517.56 L751.12 518.55 L751.12 519.21 L751.45 520.21 L752.12 520.87 L752.78 521.20 L753.77 521.20 L754.43 520.87 L755.09 520.21 L755.43 519.21 L755.43 518.55 L755.09 517.56 L754.43 516.90 L753.77 516.57 L752.78 516.57 M757.74 516.57 L757.74 521.20 M757.74 517.89 L758.74 516.90 L759.40 516.57 L760.39 516.57 L761.05 516.90 L761.38 517.89 L761.38 521.20 M770.65 514.25 L770.65 521.20 M768.33 514.25 L772.97 514.25 M775.95 516.57 L775.29 516.90 L774.62 517.56 L774.29 518.55 L774.29 519.21 L774.62 520.21 L775.29 520.87 L775.95 521.20 L776.94 521.20 L777.60 520.87 L778.26 520.21 L778.60 519.21 L778.60 518.55 L778.26 517.56 L777.60 516.90 L776.94 516.57 L775.95 516.57 M782.24 516.57 L781.57 516.90 L780.91 517.56 L780.58 518.55 L780.58 519.21 L780.91 520.21 L781.57 520.87 L782.24 521.20 L783.23 521.20 L783.89 520.87 L784.55 520.21 L784.88 519.21 L784.88 518.55 L784.55 517.56 L783.89 516.90 L783.23 516.57 L782.24 516.57 M787.20 514.25 L787.20 521.20" stroke-width="1.05"/>
<path d="M636.26 525.55 L636.26 532.50 M636.26 528.86 L635.60 528.20 L634.94 527.87 L633.95 527.87 L633.29 528.20 L632.62 528.86 L632.29 529.85 L632.29 530.51 L632.62 531.51 L633.29 532.17 L633.95 532.50 L634.94 532.50 L635.60 532.17 L636.26 531.51 M638.58 529.85 L642.55 529.85 L642.55 529.19 L642.22 528.53 L641.89 528.20 L641.23 527.87 L640.24 527.87 L639.57 528.20 L638.91 528.86 L638.58 529.85 L638.58 530.51 L638.91 531.51 L639.57 532.17 L640.24 532.50 L641.23 532.50 L641.89 532.17 L642.55 531.51 M648.18 528.86 L647.85 528.20 L646.86 527.87 L645.86 527.87 L644.87 528.20 L644.54 528.86 L644.87 529.52 L645.53 529.85 L647.19 530.18 L647.85 530.51 L648.18 531.18 L648.18 531.51 L647.85 532.17 L646.86 532.50 L645.86 532.50 L644.87 532.17 L644.54 531.51 M650.17 525.55 L650.50 525.88 L650.83 525.55 L650.50 525.22 L650.17 525.55 M650.50 527.87 L650.50 532.50 M656.79 527.87 L656.79 533.16 L656.46 534.15 L656.12 534.49 L655.46 534.82 L654.47 534.82 L653.81 534.49 M656.79 528.86 L656.12 528.20 L655.46 527.87 L654.47 527.87 L653.81 528.20 L653.15 528.86 L652.81 529.85 L652.81 530.51 L653.15 531.51 L653.81 532.17 L654.47 532.50 L655.46 532.50 L656.12 532.17 L656.79 531.51 M659.43 527.87 L659.43 532.50 M659.43 529.19 L660.43 528.20 L661.09 527.87 L662.08 527.87 L662.74 528.20 L663.08 529.19 L663.08 532.50 M665.39 529.85 L669.36 529.85 L669.36 529.19 L669.03 528.53 L668.70 528.20 L668.04 527.87 L667.05 527.87 L666.39 528.20 L665.72 528.86 L665.39 529.85 L665.39 530.51 L665.72 531.51 L666.39 532.17 L667.05 532.50 L668.04 532.50 L668.70 532.17 L669.36 531.51 M675.32 525.55 L675.32 532.50 M675.32 528.86 L674.66 528.20 L674.00 527.87 L673.01 527.87 L672.34 528.20 L671.68 528.86 L671.35 529.85 L671.35 530.51 L671.68 531.51 L672.34 532.17 L673.01 532.50 L674.00 532.50 L674.66 532.17 L675.32 531.51 M683.27 525.55 L683.27 532.50 M683.27 528.86 L683.93 528.20 L684.59 527.87 L685.58 527.87 L686.25 528.20 L686.91 528.86 L687.24 529.85 L687.24 530.51 L686.91 531.51 L686.25 532.17 L685.58 532.50 L684.59 532.50 L683.93 532.17 L683.27 531.51 M688.89 527.87 L690.88 532.50 M692.87 527.87 L690.88 532.50 L690.22 533.82 L689.56 534.49 L688.89 534.82 L688.56 534.82 M700.15 525.55 L700.15 532.50 M700.15 525.55 L704.45 525.55 M700.15 528.86 L702.80 528.86 M700.15 532.50 L704.45 532.50 M706.44 525.55 L706.44 532.50 M706.44 525.55 L709.08 532.50 M711.73 525.55 L709.08 532.50 M711.73 525.55 L711.73 532.50 M714.38 525.55 L714.38 532.50 M714.38 525.55 L717.36 525.55 L718.35 525.88 L718.68 526.21 L719.01 526.87 L719.01 527.87 L718.68 528.53 L718.35 528.86 L717.36 529.19 L714.38 529.19 M722.99 525.55 L720.34 532.50 M722.99 525.55 L725.63 532.50 M721.33 530.18 L724.64 530.18" stroke-width="1.05"/>
<circle cx="622.1" cy="517.6" r="3.5" stroke-width="1.3"/>
<path d="M623.6 516.4 A1.9 1.9 0 1 0 623.6 518.8" stroke-width="1.3"/>
</g>
</svg>
<div class="t" style="left:617px;top:13px;font-size:19px;color:transparent;">[10<sup style="font-size:10px">15</sup> molec/cm<sup style="font-size:10px">2</sup>]</div>
<div class="t" style="left:696px;top:50px;font-size:19px;color:transparent;">&gt;</div>
<div class="t" style="left:696px;top:81px;font-size:19px;color:transparent;">5.0</div>
<div class="t" style="left:696px;top:153px;font-size:19px;color:transparent;">4.0</div>
<div class="t" style="left:696px;top:227px;font-size:19px;color:transparent;">3.0</div>
<div class="t" style="left:696px;top:300px;font-size:19px;color:transparent;">2.0</div>
<div class="t" style="left:696px;top:375px;font-size:19px;color:transparent;">1.0</div>
<div class="t" style="left:696px;top:448px;font-size:19px;color:transparent;">0.0</div>
<div class="t" style="left:696px;top:478px;font-size:19px;color:transparent;">&lt;</div>
<div class="t" style="left:618px;top:513px;font-size:9px;color:transparent;">&copy; POLPO Data Visualisation Tool</div>
<div class="t" style="left:632px;top:524px;font-size:9px;color:transparent;">designed by EMPA</div>
</body></html>
